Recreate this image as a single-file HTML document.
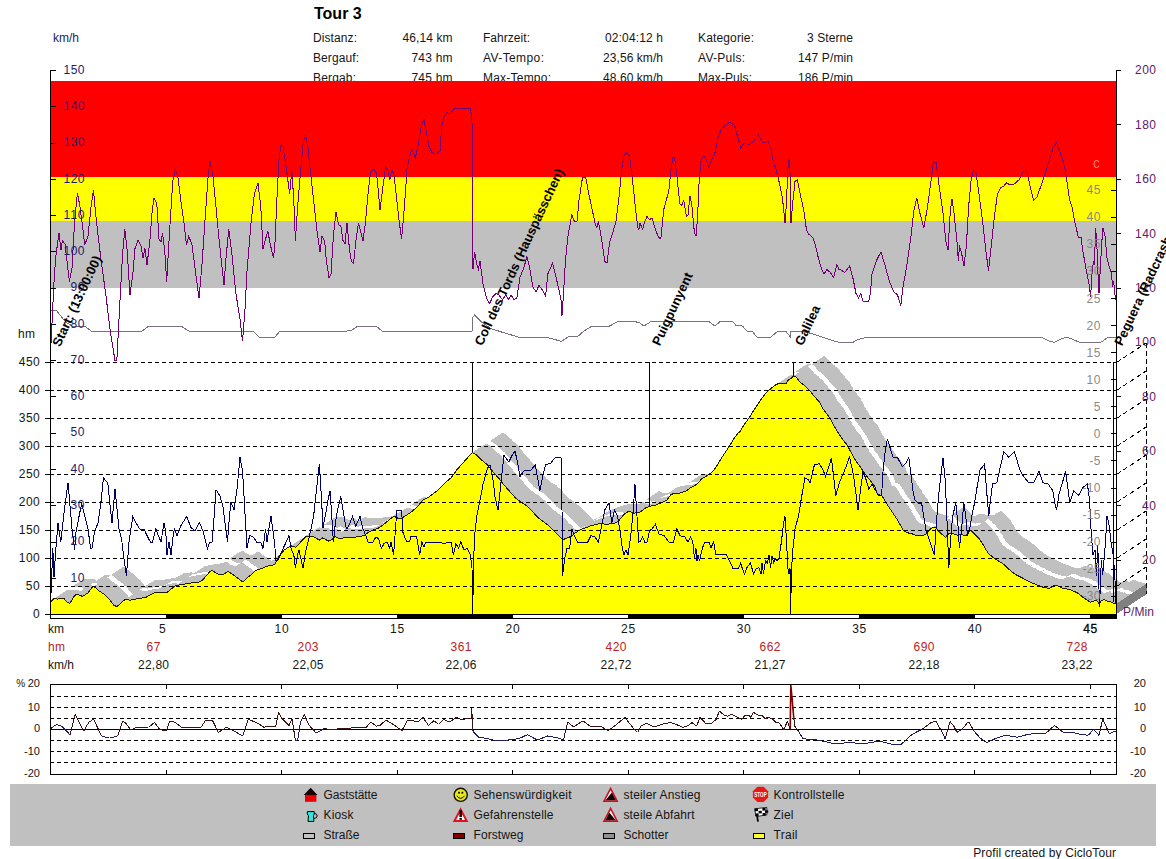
<!DOCTYPE html>
<html><head><meta charset="utf-8"><title>Tour 3</title>
<style>html,body{margin:0;padding:0;background:#fff;}body{width:1166px;height:859px;overflow:hidden;font-family:"Liberation Sans", sans-serif;}svg{display:block;}text{font-family:"Liberation Sans", sans-serif;}</style>
</head><body>
<svg width="1166" height="859" viewBox="0 0 1166 859">
<rect x="0" y="0" width="1166" height="859" fill="#ffffff"/>
<text x="314" y="19" font-size="16" font-weight="bold" fill="#000">Tour 3</text>
<text x="313" y="42" font-size="12" fill="#151515" textLength="44" lengthAdjust="spacing">Distanz:</text>
<text x="452.5" y="42" font-size="12" fill="#151515" text-anchor="end" textLength="50" lengthAdjust="spacing">46,14 km</text>
<text x="483" y="42" font-size="12" fill="#151515" textLength="47" lengthAdjust="spacing">Fahrzeit:</text>
<text x="663" y="42" font-size="12" fill="#151515" text-anchor="end" textLength="58" lengthAdjust="spacing">02:04:12 h</text>
<text x="698" y="42" font-size="12" fill="#151515" textLength="56" lengthAdjust="spacing">Kategorie:</text>
<text x="853" y="42" font-size="12" fill="#151515" text-anchor="end" textLength="46" lengthAdjust="spacing">3 Sterne</text>
<text x="313" y="62" font-size="12" fill="#151515" textLength="46" lengthAdjust="spacing">Bergauf:</text>
<text x="452.5" y="62" font-size="12" fill="#151515" text-anchor="end" textLength="41" lengthAdjust="spacing">743 hm</text>
<text x="483" y="62" font-size="12" fill="#151515" textLength="61" lengthAdjust="spacing">AV-Tempo:</text>
<text x="663" y="62" font-size="12" fill="#151515" text-anchor="end" textLength="60" lengthAdjust="spacing">23,56 km/h</text>
<text x="698" y="62" font-size="12" fill="#151515" textLength="47" lengthAdjust="spacing">AV-Puls:</text>
<text x="853" y="62" font-size="12" fill="#151515" text-anchor="end" textLength="55" lengthAdjust="spacing">147 P/min</text>
<text x="313" y="82" font-size="12" fill="#151515" textLength="43" lengthAdjust="spacing">Bergab:</text>
<text x="452.5" y="82" font-size="12" fill="#151515" text-anchor="end" textLength="41" lengthAdjust="spacing">745 hm</text>
<text x="483" y="82" font-size="12" fill="#151515" textLength="68" lengthAdjust="spacing">Max-Tempo:</text>
<text x="663" y="82" font-size="12" fill="#151515" text-anchor="end" textLength="60" lengthAdjust="spacing">48,60 km/h</text>
<text x="698" y="82" font-size="12" fill="#151515" textLength="54" lengthAdjust="spacing">Max-Puls:</text>
<text x="853" y="82" font-size="12" fill="#151515" text-anchor="end" textLength="55" lengthAdjust="spacing">186 P/min</text>
<g shape-rendering="crispEdges">
<rect x="51" y="81" width="1065" height="96" fill="#ff0000"/>
<rect x="51" y="177" width="1065" height="44" fill="#ffff00"/>
<rect x="51" y="221" width="1065" height="67" fill="#c0c0c0"/>
</g>
<g shape-rendering="crispEdges" stroke="none">
<polygon fill="#c0c0c0" points="50.8,602.4 53.0,600.0 83.0,580.2 80.8,582.6"/>
<polygon fill="#ffffff" points="64.5,593.4 66.7,591.0 70.5,588.4 68.3,590.8"/>
<polygon fill="#c0c0c0" points="52.4,600.0 54.9,598.5 84.9,578.7 82.4,580.2"/>
<polygon fill="#ffffff" points="66.0,591.0 68.5,589.5 72.4,586.9 69.9,588.4"/>
<polygon fill="#c0c0c0" points="54.3,598.5 57.7,599.1 87.7,579.3 84.3,578.7"/>
<polygon fill="#ffffff" points="68.0,589.5 71.4,590.1 75.2,587.5 71.8,586.9"/>
<polygon fill="#c0c0c0" points="57.1,599.1 61.4,598.5 91.4,578.7 87.1,579.3"/>
<polygon fill="#ffffff" points="70.8,590.1 75.0,589.5 78.9,586.9 74.7,587.5"/>
<polygon fill="#c0c0c0" points="60.8,598.5 64.7,598.5 94.7,578.7 90.8,578.7"/>
<polygon fill="#ffffff" points="74.5,589.5 78.3,589.5 82.2,586.9 78.3,586.9"/>
<polygon fill="#c0c0c0" points="64.1,598.5 66.5,601.0 96.5,581.2 94.1,578.7"/>
<polygon fill="#ffffff" points="77.8,589.5 80.2,592.0 84.0,589.4 81.6,586.9"/>
<polygon fill="#c0c0c0" points="65.9,601.0 68.4,602.8 98.4,583.0 95.9,581.2"/>
<polygon fill="#ffffff" points="79.6,592.0 82.0,593.8 85.9,591.2 83.5,589.4"/>
<polygon fill="#c0c0c0" points="67.8,602.8 70.3,603.3 100.3,583.5 97.8,583.0"/>
<polygon fill="#ffffff" points="81.5,593.8 84.0,594.3 87.8,591.7 85.3,591.2"/>
<polygon fill="#c0c0c0" points="69.7,603.3 72.1,601.0 102.1,581.2 99.7,583.5"/>
<polygon fill="#ffffff" points="83.4,594.3 85.8,592.0 89.6,589.4 87.2,591.7"/>
<polygon fill="#c0c0c0" points="71.5,601.0 74.5,596.8 104.5,577.0 101.5,581.2"/>
<polygon fill="#ffffff" points="85.2,592.0 88.2,587.8 92.0,585.2 89.0,589.4"/>
<polygon fill="#c0c0c0" points="73.9,596.8 76.3,594.5 106.3,574.7 103.9,577.0"/>
<polygon fill="#ffffff" points="87.6,587.8 90.0,585.5 93.8,582.9 91.5,585.2"/>
<polygon fill="#c0c0c0" points="75.7,594.5 78.6,594.2 108.6,574.4 105.7,574.7"/>
<polygon fill="#ffffff" points="89.4,585.5 92.2,585.2 96.1,582.6 93.2,582.9"/>
<polygon fill="#c0c0c0" points="78.0,594.2 80.5,595.4 110.5,575.6 108.0,574.4"/>
<polygon fill="#ffffff" points="91.7,585.2 94.2,586.4 98.0,583.8 95.5,582.6"/>
<polygon fill="#c0c0c0" points="79.9,595.4 82.8,596.3 112.8,576.5 109.9,575.6"/>
<polygon fill="#ffffff" points="93.6,586.4 96.5,587.3 100.3,584.7 97.5,583.8"/>
<polygon fill="#c0c0c0" points="82.2,596.3 85.6,594.9 115.6,575.1 112.2,576.5"/>
<polygon fill="#ffffff" points="95.9,587.3 99.2,585.9 103.1,583.3 99.8,584.7"/>
<polygon fill="#c0c0c0" points="85.0,594.9 88.4,593.0 118.4,573.2 115.0,575.1"/>
<polygon fill="#ffffff" points="98.7,585.9 102.0,584.0 105.9,581.4 102.5,583.3"/>
<polygon fill="#c0c0c0" points="87.8,593.0 90.3,590.7 120.3,570.9 117.8,573.2"/>
<polygon fill="#ffffff" points="101.5,584.0 104.0,581.7 107.8,579.1 105.3,581.4"/>
<polygon fill="#c0c0c0" points="89.7,590.7 92.2,588.0 122.2,568.2 119.7,570.9"/>
<polygon fill="#ffffff" points="103.4,581.7 105.8,579.0 109.7,576.4 107.2,579.1"/>
<polygon fill="#c0c0c0" points="91.6,588.0 94.0,586.6 124.0,566.8 121.6,568.2"/>
<polygon fill="#ffffff" points="105.2,579.0 107.7,577.6 111.5,575.0 109.1,576.4"/>
<polygon fill="#c0c0c0" points="93.4,586.6 95.9,587.5 125.9,567.7 123.4,566.8"/>
<polygon fill="#ffffff" points="107.1,577.6 109.5,578.5 113.4,575.9 111.0,575.0"/>
<polygon fill="#c0c0c0" points="95.3,587.5 98.7,590.3 128.7,570.5 125.3,567.7"/>
<polygon fill="#ffffff" points="109.0,578.5 112.3,581.3 116.2,578.7 112.8,575.9"/>
<polygon fill="#c0c0c0" points="98.1,590.3 101.5,592.1 131.5,572.3 128.1,570.5"/>
<polygon fill="#ffffff" points="111.8,581.3 115.2,583.1 119.0,580.5 115.6,578.7"/>
<polygon fill="#c0c0c0" points="100.9,592.1 104.3,594.0 134.3,574.2 130.9,572.3"/>
<polygon fill="#ffffff" points="114.6,583.1 118.0,585.0 121.8,582.4 118.5,580.5"/>
<polygon fill="#c0c0c0" points="103.7,594.0 107.1,596.8 137.1,577.0 133.7,574.2"/>
<polygon fill="#ffffff" points="117.4,585.0 120.8,587.8 124.6,585.2 121.2,582.4"/>
<polygon fill="#c0c0c0" points="106.5,596.8 110.8,600.5 140.8,580.7 136.5,577.0"/>
<polygon fill="#ffffff" points="120.2,587.8 124.5,591.5 128.3,588.9 124.0,585.2"/>
<polygon fill="#c0c0c0" points="110.2,600.5 114.5,605.2 144.5,585.4 140.2,580.7"/>
<polygon fill="#ffffff" points="123.9,591.5 128.2,596.2 132.1,593.6 127.8,588.9"/>
<polygon fill="#c0c0c0" points="113.9,605.2 117.3,606.6 147.3,586.8 143.9,585.4"/>
<polygon fill="#ffffff" points="127.6,596.2 130.9,597.6 134.8,595.0 131.4,593.6"/>
<polygon fill="#c0c0c0" points="116.7,606.6 120.1,604.7 150.1,584.9 146.7,586.8"/>
<polygon fill="#ffffff" points="130.3,597.6 133.8,595.7 137.6,593.1 134.2,595.0"/>
<polygon fill="#c0c0c0" points="119.5,604.7 122.9,601.5 152.9,581.7 149.5,584.9"/>
<polygon fill="#ffffff" points="133.2,595.7 136.5,592.5 140.4,589.9 137.1,593.1"/>
<polygon fill="#c0c0c0" points="122.3,601.5 125.7,599.6 155.7,579.8 152.3,581.7"/>
<polygon fill="#ffffff" points="135.9,592.5 139.3,590.6 143.2,588.0 139.8,589.9"/>
<polygon fill="#c0c0c0" points="125.1,599.6 127.5,599.1 157.5,579.3 155.1,579.8"/>
<polygon fill="#ffffff" points="138.8,590.6 141.2,590.1 145.1,587.5 142.6,588.0"/>
<polygon fill="#c0c0c0" points="126.9,599.1 130.3,600.3 160.3,580.5 156.9,579.3"/>
<polygon fill="#ffffff" points="140.6,590.1 143.9,591.3 147.8,588.7 144.4,587.5"/>
<polygon fill="#c0c0c0" points="129.7,600.3 134.1,599.6 164.1,579.8 159.7,580.5"/>
<polygon fill="#ffffff" points="143.3,591.3 147.8,590.6 151.6,588.0 147.2,588.7"/>
<polygon fill="#c0c0c0" points="133.5,599.6 137.8,598.7 167.8,578.9 163.5,579.8"/>
<polygon fill="#ffffff" points="147.2,590.6 151.4,589.7 155.3,587.1 151.1,588.0"/>
<polygon fill="#c0c0c0" points="137.2,598.7 141.5,598.2 171.5,578.4 167.2,578.9"/>
<polygon fill="#ffffff" points="150.8,589.7 155.2,589.2 159.1,586.6 154.8,587.1"/>
<polygon fill="#c0c0c0" points="140.9,598.2 146.2,597.5 176.2,577.7 170.9,578.4"/>
<polygon fill="#ffffff" points="154.6,589.2 159.8,588.5 163.8,585.9 158.4,586.6"/>
<polygon fill="#c0c0c0" points="145.6,597.5 154.6,592.9 184.6,573.1 175.6,577.7"/>
<polygon fill="#ffffff" points="159.2,588.5 168.2,583.9 172.1,581.3 163.1,585.9"/>
<polygon fill="#c0c0c0" points="154.0,592.9 161.6,592.2 191.6,572.4 184.0,573.1"/>
<polygon fill="#ffffff" points="167.7,583.9 175.2,583.2 179.1,580.6 171.6,581.3"/>
<polygon fill="#c0c0c0" points="161.0,592.2 167.2,592.9 197.2,573.1 191.0,572.4"/>
<polygon fill="#ffffff" points="174.7,583.2 180.8,583.9 184.8,581.3 178.6,580.6"/>
<polygon fill="#c0c0c0" points="166.6,592.9 171.3,589.4 201.3,569.6 196.6,573.1"/>
<polygon fill="#ffffff" points="180.2,583.9 184.9,580.4 188.8,577.8 184.1,581.3"/>
<polygon fill="#c0c0c0" points="170.7,589.4 175.5,585.9 205.5,566.1 200.7,569.6"/>
<polygon fill="#ffffff" points="184.3,580.4 189.2,576.9 193.1,574.3 188.2,577.8"/>
<polygon fill="#c0c0c0" points="174.9,585.9 182.5,584.5 212.5,564.7 204.9,566.1"/>
<polygon fill="#ffffff" points="188.6,576.9 196.2,575.5 200.1,572.9 192.4,574.3"/>
<polygon fill="#c0c0c0" points="181.9,584.5 190.9,583.1 220.9,563.3 211.9,564.7"/>
<polygon fill="#ffffff" points="195.6,575.5 204.6,574.1 208.4,571.5 199.4,572.9"/>
<polygon fill="#c0c0c0" points="190.3,583.1 199.3,582.4 229.3,562.6 220.3,563.3"/>
<polygon fill="#ffffff" points="204.0,574.1 212.9,573.4 216.8,570.8 207.9,571.5"/>
<polygon fill="#c0c0c0" points="198.7,582.4 203.5,579.7 233.5,559.9 228.7,562.6"/>
<polygon fill="#ffffff" points="212.3,573.4 217.2,570.7 221.1,568.1 216.2,570.8"/>
<polygon fill="#c0c0c0" points="202.9,579.7 207.7,574.8 237.7,555.0 232.9,559.9"/>
<polygon fill="#ffffff" points="216.6,570.7 221.3,565.8 225.2,563.2 220.4,568.1"/>
<polygon fill="#c0c0c0" points="207.1,574.8 210.5,571.5 240.5,551.7 237.1,555.0"/>
<polygon fill="#ffffff" points="220.8,565.8 224.2,562.5 228.1,559.9 224.6,563.2"/>
<polygon fill="#c0c0c0" points="209.9,571.5 213.3,570.6 243.3,550.8 239.9,551.7"/>
<polygon fill="#ffffff" points="223.6,562.5 226.9,561.6 230.8,559.0 227.4,559.9"/>
<polygon fill="#c0c0c0" points="212.7,570.6 216.8,573.4 246.8,553.6 242.7,550.8"/>
<polygon fill="#ffffff" points="226.3,561.6 230.4,564.4 234.3,561.8 230.2,559.0"/>
<polygon fill="#c0c0c0" points="216.2,573.4 220.3,574.8 250.3,555.0 246.2,553.6"/>
<polygon fill="#ffffff" points="229.8,564.4 233.9,565.8 237.8,563.2 233.8,561.8"/>
<polygon fill="#c0c0c0" points="219.7,574.8 223.7,574.8 253.7,555.0 249.7,555.0"/>
<polygon fill="#ffffff" points="233.3,565.8 237.3,565.8 241.2,563.2 237.2,563.2"/>
<polygon fill="#c0c0c0" points="223.1,574.8 228.6,571.3 258.6,551.5 253.1,555.0"/>
<polygon fill="#ffffff" points="236.8,565.8 242.2,562.3 246.1,559.7 240.6,563.2"/>
<polygon fill="#c0c0c0" points="228.0,571.3 232.8,574.1 262.8,554.3 258.0,551.5"/>
<polygon fill="#ffffff" points="241.7,562.3 246.4,565.1 250.3,562.5 245.6,559.7"/>
<polygon fill="#c0c0c0" points="232.2,574.1 238.4,578.3 268.4,558.5 262.2,554.3"/>
<polygon fill="#ffffff" points="245.8,565.1 252.1,569.3 255.9,566.7 249.8,562.5"/>
<polygon fill="#c0c0c0" points="237.8,578.3 243.6,582.2 273.6,562.4 267.8,558.5"/>
<polygon fill="#ffffff" points="251.5,569.3 257.2,573.2 261.1,570.6 255.4,566.7"/>
<polygon fill="#c0c0c0" points="243.0,582.2 248.2,577.6 278.2,557.8 273.0,562.4"/>
<polygon fill="#ffffff" points="256.6,573.2 261.8,568.6 265.8,566.0 260.6,570.6"/>
<polygon fill="#c0c0c0" points="247.6,577.6 252.4,574.1 282.4,554.3 277.6,557.8"/>
<polygon fill="#ffffff" points="261.2,568.6 266.1,565.1 269.9,562.5 265.1,566.0"/>
<polygon fill="#c0c0c0" points="251.8,574.1 256.6,570.2 286.6,550.4 281.8,554.3"/>
<polygon fill="#ffffff" points="265.4,565.1 270.2,561.2 274.2,558.6 269.4,562.5"/>
<polygon fill="#c0c0c0" points="256.0,570.2 262.2,568.5 292.2,548.7 286.0,550.4"/>
<polygon fill="#ffffff" points="269.6,561.2 275.9,559.5 279.8,556.9 273.6,558.6"/>
<polygon fill="#c0c0c0" points="261.6,568.5 269.2,565.7 299.2,545.9 291.6,548.7"/>
<polygon fill="#ffffff" points="275.2,559.5 282.9,556.7 286.8,554.1 279.2,556.9"/>
<polygon fill="#c0c0c0" points="268.6,565.7 273.4,565.0 303.4,545.2 298.6,545.9"/>
<polygon fill="#ffffff" points="282.2,556.7 287.1,556.0 291.0,553.4 286.2,554.1"/>
<polygon fill="#c0c0c0" points="272.8,565.0 276.1,563.6 306.1,543.8 302.8,545.2"/>
<polygon fill="#ffffff" points="286.4,556.0 289.8,554.6 293.7,552.0 290.4,553.4"/>
<polygon fill="#c0c0c0" points="275.5,563.6 278.2,558.7 308.2,538.9 305.5,543.8"/>
<polygon fill="#ffffff" points="289.1,554.6 291.9,549.7 295.8,547.1 293.1,552.0"/>
<polygon fill="#c0c0c0" points="277.6,558.7 281.0,554.5 311.0,534.7 307.6,538.9"/>
<polygon fill="#ffffff" points="291.2,549.7 294.6,545.5 298.6,542.9 295.2,547.1"/>
<polygon fill="#c0c0c0" points="280.4,554.5 284.5,550.3 314.5,530.5 310.4,534.7"/>
<polygon fill="#ffffff" points="294.0,545.5 298.1,541.3 302.1,538.7 297.9,542.9"/>
<polygon fill="#c0c0c0" points="283.9,550.3 288.7,547.5 318.7,527.7 313.9,530.5"/>
<polygon fill="#ffffff" points="297.5,541.3 302.4,538.5 306.3,535.9 301.4,538.7"/>
<polygon fill="#c0c0c0" points="288.1,547.5 292.1,546.0 322.1,526.2 318.1,527.7"/>
<polygon fill="#ffffff" points="301.8,538.5 305.8,537.0 309.7,534.4 305.7,535.9"/>
<polygon fill="#c0c0c0" points="291.5,546.0 294.1,546.4 324.1,526.6 321.5,526.2"/>
<polygon fill="#ffffff" points="305.1,537.0 307.8,537.4 311.7,534.8 309.1,534.4"/>
<polygon fill="#c0c0c0" points="293.5,546.4 296.2,547.4 326.2,527.6 323.5,526.6"/>
<polygon fill="#ffffff" points="307.1,537.4 309.9,538.4 313.8,535.8 311.1,534.8"/>
<polygon fill="#c0c0c0" points="295.6,547.4 301.1,542.2 331.1,522.4 325.6,527.6"/>
<polygon fill="#ffffff" points="309.2,538.4 314.8,533.2 318.7,530.6 313.2,535.8"/>
<polygon fill="#c0c0c0" points="300.5,542.2 306.0,536.9 336.0,517.1 330.5,522.4"/>
<polygon fill="#ffffff" points="314.1,533.2 319.6,527.9 323.6,525.3 318.1,530.6"/>
<polygon fill="#c0c0c0" points="305.4,536.9 310.2,536.4 340.2,516.6 335.4,517.1"/>
<polygon fill="#ffffff" points="319.0,527.9 323.9,527.4 327.8,524.8 322.9,525.3"/>
<polygon fill="#c0c0c0" points="309.6,536.4 314.4,536.9 344.4,517.1 339.6,516.6"/>
<polygon fill="#ffffff" points="323.2,527.4 328.1,527.9 332.0,525.3 327.2,524.8"/>
<polygon fill="#c0c0c0" points="313.8,536.9 319.9,540.1 349.9,520.3 343.8,517.1"/>
<polygon fill="#ffffff" points="327.4,527.9 333.6,531.1 337.5,528.5 331.4,525.3"/>
<polygon fill="#c0c0c0" points="319.3,540.1 323.4,537.8 353.4,518.0 349.3,520.3"/>
<polygon fill="#ffffff" points="332.9,531.1 337.1,528.8 341.0,526.2 336.9,528.5"/>
<polygon fill="#c0c0c0" points="322.8,537.8 329.0,541.1 359.0,521.3 352.8,518.0"/>
<polygon fill="#ffffff" points="336.4,528.8 342.6,532.1 346.6,529.5 340.4,526.2"/>
<polygon fill="#c0c0c0" points="328.4,541.1 332.5,539.4 362.5,519.6 358.4,521.3"/>
<polygon fill="#ffffff" points="342.0,532.1 346.1,530.4 350.1,527.8 345.9,529.5"/>
<polygon fill="#c0c0c0" points="331.9,539.4 335.3,536.6 365.3,516.8 361.9,519.6"/>
<polygon fill="#ffffff" points="345.5,530.4 348.9,527.6 352.9,525.0 349.4,527.8"/>
<polygon fill="#c0c0c0" points="334.7,536.6 339.5,538.3 369.5,518.5 364.7,516.8"/>
<polygon fill="#ffffff" points="348.3,527.6 353.1,529.3 357.1,526.7 352.2,525.0"/>
<polygon fill="#c0c0c0" points="338.9,538.3 346.5,537.8 376.5,518.0 368.9,518.5"/>
<polygon fill="#ffffff" points="352.5,529.3 360.1,528.8 364.1,526.2 356.4,526.7"/>
<polygon fill="#c0c0c0" points="345.9,537.8 353.5,537.3 383.5,517.5 375.9,518.0"/>
<polygon fill="#ffffff" points="359.5,528.8 367.1,528.3 371.1,525.7 363.4,526.2"/>
<polygon fill="#c0c0c0" points="352.9,537.3 360.5,536.6 390.5,516.8 382.9,517.5"/>
<polygon fill="#ffffff" points="366.5,528.3 374.1,527.6 378.1,525.0 370.4,525.7"/>
<polygon fill="#c0c0c0" points="359.9,536.6 364.6,535.5 394.6,515.7 389.9,516.8"/>
<polygon fill="#ffffff" points="373.5,527.6 378.2,526.5 382.2,523.9 377.4,525.0"/>
<polygon fill="#c0c0c0" points="364.0,535.5 368.9,532.4 398.9,512.6 394.0,515.7"/>
<polygon fill="#ffffff" points="377.6,526.5 382.6,523.4 386.5,520.8 381.6,523.9"/>
<polygon fill="#c0c0c0" points="368.3,532.4 374.4,529.9 404.4,510.1 398.3,512.6"/>
<polygon fill="#ffffff" points="381.9,523.4 388.1,520.9 392.0,518.3 385.9,520.8"/>
<polygon fill="#c0c0c0" points="373.8,529.9 380.0,527.6 410.0,507.8 403.8,510.1"/>
<polygon fill="#ffffff" points="387.4,520.9 393.6,518.6 397.6,516.0 391.4,518.3"/>
<polygon fill="#c0c0c0" points="379.4,527.6 385.6,523.4 415.6,503.6 409.4,507.8"/>
<polygon fill="#ffffff" points="393.0,518.6 399.2,514.4 403.2,511.8 396.9,516.0"/>
<polygon fill="#c0c0c0" points="385.0,523.4 391.2,518.5 421.2,498.7 415.0,503.6"/>
<polygon fill="#ffffff" points="398.6,514.4 404.9,509.5 408.8,506.9 402.6,511.8"/>
<polygon fill="#c0c0c0" points="390.6,518.5 394.7,516.4 424.7,496.6 420.6,498.7"/>
<polygon fill="#ffffff" points="404.2,509.5 408.4,507.4 412.3,504.8 408.2,506.9"/>
<polygon fill="#c0c0c0" points="394.1,516.4 398.2,518.0 428.2,498.2 424.1,496.6"/>
<polygon fill="#ffffff" points="407.8,507.4 411.9,509.0 415.8,506.4 411.7,504.8"/>
<polygon fill="#c0c0c0" points="397.6,518.0 402.4,518.0 432.4,498.2 427.6,498.2"/>
<polygon fill="#ffffff" points="411.2,509.0 416.1,509.0 420.0,506.4 415.2,506.4"/>
<polygon fill="#c0c0c0" points="401.8,518.0 406.6,515.4 436.6,495.6 431.8,498.2"/>
<polygon fill="#ffffff" points="415.4,509.0 420.2,506.4 424.2,503.8 419.4,506.4"/>
<polygon fill="#c0c0c0" points="406.0,515.4 410.8,512.9 440.8,493.1 436.0,495.6"/>
<polygon fill="#ffffff" points="419.6,506.4 424.4,503.9 428.4,501.3 423.6,503.8"/>
<polygon fill="#c0c0c0" points="410.2,512.9 415.0,509.4 445.0,489.6 440.2,493.1"/>
<polygon fill="#ffffff" points="423.8,503.9 428.6,500.4 432.6,497.8 427.8,501.3"/>
<polygon fill="#c0c0c0" points="414.4,509.4 419.2,505.2 449.2,485.4 444.4,489.6"/>
<polygon fill="#ffffff" points="428.0,500.4 432.9,496.2 436.8,493.6 431.9,497.8"/>
<polygon fill="#c0c0c0" points="418.6,505.2 423.4,500.3 453.4,480.5 448.6,485.4"/>
<polygon fill="#ffffff" points="432.2,496.2 437.1,491.3 441.0,488.7 436.2,493.6"/>
<polygon fill="#c0c0c0" points="422.8,500.3 427.5,498.2 457.5,478.4 452.8,480.5"/>
<polygon fill="#ffffff" points="436.4,491.3 441.1,489.2 445.1,486.6 440.4,488.7"/>
<polygon fill="#c0c0c0" points="426.9,498.2 431.7,495.4 461.7,475.6 456.9,478.4"/>
<polygon fill="#ffffff" points="440.5,489.2 445.4,486.4 449.3,483.8 444.4,486.6"/>
<polygon fill="#c0c0c0" points="431.1,495.4 437.3,491.2 467.3,471.4 461.1,475.6"/>
<polygon fill="#ffffff" points="444.8,486.4 450.9,482.2 454.9,479.6 448.7,483.8"/>
<polygon fill="#c0c0c0" points="436.7,491.2 440.6,487.8 470.6,468.0 466.7,471.4"/>
<polygon fill="#ffffff" points="450.3,482.2 454.2,478.8 458.2,476.2 454.2,479.6"/>
<polygon fill="#c0c0c0" points="440.0,487.8 446.2,482.5 476.2,462.7 470.0,468.0"/>
<polygon fill="#ffffff" points="453.6,478.8 459.9,473.5 463.8,470.9 457.6,476.2"/>
<polygon fill="#c0c0c0" points="445.6,482.5 451.8,477.6 481.8,457.8 475.6,462.7"/>
<polygon fill="#ffffff" points="459.2,473.5 465.4,468.6 469.4,466.0 463.2,470.9"/>
<polygon fill="#c0c0c0" points="451.2,477.6 457.4,469.9 487.4,450.1 481.2,457.8"/>
<polygon fill="#ffffff" points="464.8,468.6 471.1,460.9 475.0,458.3 468.8,466.0"/>
<polygon fill="#c0c0c0" points="456.8,469.9 463.0,463.6 493.0,443.8 486.8,450.1"/>
<polygon fill="#ffffff" points="470.4,460.9 476.6,454.6 480.6,452.0 474.4,458.3"/>
<polygon fill="#c0c0c0" points="462.4,463.6 468.5,457.4 498.5,437.6 492.4,443.8"/>
<polygon fill="#ffffff" points="476.0,454.6 482.1,448.4 486.1,445.8 479.9,452.0"/>
<polygon fill="#c0c0c0" points="467.9,457.4 473.0,452.5 503.0,432.7 497.9,437.6"/>
<polygon fill="#ffffff" points="481.5,448.4 486.6,443.5 490.6,440.9 485.4,445.8"/>
<polygon fill="#c0c0c0" points="472.4,452.5 476.9,454.6 506.9,434.8 502.4,432.7"/>
<polygon fill="#ffffff" points="486.0,443.5 490.6,445.6 494.5,443.0 489.9,440.9"/>
<polygon fill="#c0c0c0" points="476.3,454.6 482.5,460.2 512.5,440.4 506.3,434.8"/>
<polygon fill="#ffffff" points="489.9,445.6 496.1,451.2 500.1,448.6 493.9,443.0"/>
<polygon fill="#c0c0c0" points="481.9,460.2 488.1,465.0 518.1,445.2 511.9,440.4"/>
<polygon fill="#ffffff" points="495.5,451.2 501.8,456.0 505.7,453.4 499.4,448.6"/>
<polygon fill="#c0c0c0" points="487.5,465.0 493.7,472.0 523.7,452.2 517.5,445.2"/>
<polygon fill="#ffffff" points="501.1,456.0 507.4,463.0 511.3,460.4 505.1,453.4"/>
<polygon fill="#c0c0c0" points="493.1,472.0 499.3,478.3 529.3,458.5 523.1,452.2"/>
<polygon fill="#ffffff" points="506.8,463.0 513.0,469.3 516.9,466.7 510.7,460.4"/>
<polygon fill="#c0c0c0" points="498.7,478.3 504.9,485.3 534.9,465.5 528.7,458.5"/>
<polygon fill="#ffffff" points="512.4,469.3 518.6,476.3 522.5,473.7 516.2,466.7"/>
<polygon fill="#c0c0c0" points="504.3,485.3 510.5,491.6 540.5,471.8 534.3,465.5"/>
<polygon fill="#ffffff" points="518.0,476.3 524.1,482.6 528.0,480.0 521.9,473.7"/>
<polygon fill="#c0c0c0" points="509.9,491.6 516.1,497.9 546.1,478.1 539.9,471.8"/>
<polygon fill="#ffffff" points="523.5,482.6 529.8,488.9 533.6,486.3 527.4,480.0"/>
<polygon fill="#c0c0c0" points="515.5,497.9 521.6,502.1 551.6,482.3 545.5,478.1"/>
<polygon fill="#ffffff" points="529.1,488.9 535.2,493.1 539.1,490.5 533.0,486.3"/>
<polygon fill="#c0c0c0" points="521.0,502.1 527.2,505.6 557.2,485.8 551.0,482.3"/>
<polygon fill="#ffffff" points="534.6,493.1 540.9,496.6 544.8,494.0 538.5,490.5"/>
<polygon fill="#c0c0c0" points="526.6,505.6 532.8,511.2 562.8,491.4 556.6,485.8"/>
<polygon fill="#ffffff" points="540.2,496.6 546.5,502.2 550.4,499.6 544.1,494.0"/>
<polygon fill="#c0c0c0" points="532.2,511.2 538.4,517.4 568.4,497.6 562.2,491.4"/>
<polygon fill="#ffffff" points="545.9,502.2 552.0,508.4 555.9,505.8 549.8,499.6"/>
<polygon fill="#c0c0c0" points="537.8,517.4 544.0,521.6 574.0,501.8 567.8,497.6"/>
<polygon fill="#ffffff" points="551.4,508.4 557.6,512.6 561.5,510.0 555.3,505.8"/>
<polygon fill="#c0c0c0" points="543.4,521.6 549.6,525.8 579.6,506.0 573.4,501.8"/>
<polygon fill="#ffffff" points="557.0,512.6 563.2,516.8 567.1,514.2 560.9,510.0"/>
<polygon fill="#c0c0c0" points="549.0,525.8 555.2,531.4 585.2,511.6 579.0,506.0"/>
<polygon fill="#ffffff" points="562.6,516.8 568.9,522.4 572.8,519.8 566.5,514.2"/>
<polygon fill="#c0c0c0" points="554.6,531.4 559.4,535.6 589.4,515.8 584.6,511.6"/>
<polygon fill="#ffffff" points="568.2,522.4 573.0,526.6 576.9,524.0 572.1,519.8"/>
<polygon fill="#c0c0c0" points="558.8,535.6 563.3,539.8 593.3,520.0 588.8,515.8"/>
<polygon fill="#ffffff" points="572.4,526.6 577.0,530.8 580.9,528.2 576.3,524.0"/>
<polygon fill="#c0c0c0" points="562.7,539.8 566.4,538.4 596.4,518.6 592.7,520.0"/>
<polygon fill="#ffffff" points="576.4,530.8 580.0,529.4 583.9,526.8 580.2,528.2"/>
<polygon fill="#c0c0c0" points="565.8,538.4 572.0,536.3 602.0,516.5 595.8,518.6"/>
<polygon fill="#ffffff" points="579.4,529.4 585.6,527.3 589.5,524.7 583.3,526.8"/>
<polygon fill="#c0c0c0" points="571.4,536.3 576.1,532.8 606.1,513.0 601.4,516.5"/>
<polygon fill="#ffffff" points="585.0,527.3 589.8,523.8 593.6,521.2 588.9,524.7"/>
<polygon fill="#c0c0c0" points="575.5,532.8 580.3,530.0 610.3,510.2 605.5,513.0"/>
<polygon fill="#ffffff" points="589.1,523.8 594.0,521.0 597.9,518.4 593.0,521.2"/>
<polygon fill="#c0c0c0" points="579.7,530.0 585.9,527.9 615.9,508.1 609.7,510.2"/>
<polygon fill="#ffffff" points="593.4,521.0 599.5,518.9 603.4,516.3 597.2,518.4"/>
<polygon fill="#c0c0c0" points="585.3,527.9 591.5,525.8 621.5,506.0 615.3,508.1"/>
<polygon fill="#ffffff" points="598.9,518.9 605.1,516.8 609.0,514.2 602.8,516.3"/>
<polygon fill="#c0c0c0" points="590.9,525.8 596.2,524.6 626.2,504.8 620.9,506.0"/>
<polygon fill="#ffffff" points="604.5,516.8 609.9,515.6 613.8,513.0 608.4,514.2"/>
<polygon fill="#c0c0c0" points="595.6,524.6 600.4,523.5 630.4,503.7 625.6,504.8"/>
<polygon fill="#ffffff" points="609.2,515.6 614.0,514.5 617.9,511.9 613.1,513.0"/>
<polygon fill="#c0c0c0" points="599.8,523.5 607.4,524.3 637.4,504.5 629.8,503.7"/>
<polygon fill="#ffffff" points="613.4,514.5 621.0,515.3 624.9,512.7 617.3,511.9"/>
<polygon fill="#c0c0c0" points="606.8,524.3 614.4,523.5 644.4,503.7 636.8,504.5"/>
<polygon fill="#ffffff" points="620.4,515.3 628.0,514.5 631.9,511.9 624.3,512.7"/>
<polygon fill="#c0c0c0" points="613.8,523.5 619.2,521.1 649.2,501.3 643.8,503.7"/>
<polygon fill="#ffffff" points="627.4,514.5 632.9,512.1 636.8,509.5 631.3,511.9"/>
<polygon fill="#c0c0c0" points="618.6,521.1 624.1,514.8 654.1,495.0 648.6,501.3"/>
<polygon fill="#ffffff" points="632.2,512.1 637.8,505.8 641.6,503.2 636.1,509.5"/>
<polygon fill="#c0c0c0" points="623.5,514.8 629.7,510.9 659.7,491.1 653.5,495.0"/>
<polygon fill="#ffffff" points="637.1,505.8 643.4,501.9 647.2,499.3 641.0,503.2"/>
<polygon fill="#c0c0c0" points="629.1,510.9 633.9,513.4 663.9,493.6 659.1,491.1"/>
<polygon fill="#ffffff" points="642.8,501.9 647.5,504.4 651.4,501.8 646.6,499.3"/>
<polygon fill="#c0c0c0" points="633.3,513.4 640.9,512.0 670.9,492.2 663.3,493.6"/>
<polygon fill="#ffffff" points="646.9,504.4 654.5,503.0 658.4,500.4 650.8,501.8"/>
<polygon fill="#c0c0c0" points="640.3,512.0 646.5,507.8 676.5,488.0 670.3,492.2"/>
<polygon fill="#ffffff" points="653.9,503.0 660.1,498.8 664.0,496.2 657.8,500.4"/>
<polygon fill="#c0c0c0" points="645.9,507.8 650.7,506.1 680.7,486.3 675.9,488.0"/>
<polygon fill="#ffffff" points="659.5,498.8 664.4,497.1 668.2,494.5 663.4,496.2"/>
<polygon fill="#c0c0c0" points="650.1,506.1 656.3,505.0 686.3,485.2 680.1,486.3"/>
<polygon fill="#ffffff" points="663.8,497.1 670.0,496.0 673.9,493.4 667.6,494.5"/>
<polygon fill="#c0c0c0" points="655.7,505.0 661.9,502.9 691.9,483.1 685.7,485.2"/>
<polygon fill="#ffffff" points="669.4,496.0 675.5,493.9 679.4,491.3 673.2,493.4"/>
<polygon fill="#c0c0c0" points="661.3,502.9 667.5,500.1 697.5,480.3 691.3,483.1"/>
<polygon fill="#ffffff" points="674.9,493.9 681.1,491.1 685.0,488.5 678.8,491.3"/>
<polygon fill="#c0c0c0" points="666.9,500.1 671.6,494.5 701.6,474.7 696.9,480.3"/>
<polygon fill="#ffffff" points="680.5,491.1 685.2,485.5 689.1,482.9 684.4,488.5"/>
<polygon fill="#c0c0c0" points="671.0,494.5 674.4,493.6 704.4,473.8 701.0,474.7"/>
<polygon fill="#ffffff" points="684.6,485.5 688.0,484.6 691.9,482.0 688.5,482.9"/>
<polygon fill="#c0c0c0" points="673.8,493.6 678.6,493.8 708.6,474.0 703.8,473.8"/>
<polygon fill="#ffffff" points="687.4,484.6 692.2,484.8 696.1,482.2 691.3,482.0"/>
<polygon fill="#c0c0c0" points="678.0,493.8 682.8,492.4 712.8,472.6 708.0,474.0"/>
<polygon fill="#ffffff" points="691.6,484.8 696.5,483.4 700.4,480.8 695.5,482.2"/>
<polygon fill="#c0c0c0" points="682.2,492.4 687.0,491.0 717.0,471.2 712.2,472.6"/>
<polygon fill="#ffffff" points="695.9,483.4 700.6,482.0 704.5,479.4 699.8,480.8"/>
<polygon fill="#c0c0c0" points="686.4,491.0 691.2,487.6 721.2,467.8 716.4,471.2"/>
<polygon fill="#ffffff" points="700.0,482.0 704.9,478.6 708.8,476.0 703.9,479.4"/>
<polygon fill="#c0c0c0" points="690.6,487.6 695.4,485.7 725.4,465.9 720.6,467.8"/>
<polygon fill="#ffffff" points="704.2,478.6 709.0,476.7 712.9,474.1 708.1,476.0"/>
<polygon fill="#c0c0c0" points="694.8,485.7 699.6,482.0 729.6,462.2 724.8,465.9"/>
<polygon fill="#ffffff" points="708.4,476.7 713.2,473.0 717.1,470.4 712.3,474.1"/>
<polygon fill="#c0c0c0" points="699.0,482.0 702.4,478.5 732.4,458.7 729.0,462.2"/>
<polygon fill="#ffffff" points="712.6,473.0 716.0,469.5 719.9,466.9 716.5,470.4"/>
<polygon fill="#c0c0c0" points="701.8,478.5 706.6,476.4 736.6,456.6 731.8,458.7"/>
<polygon fill="#ffffff" points="715.4,469.5 720.2,467.4 724.1,464.8 719.3,466.9"/>
<polygon fill="#c0c0c0" points="706.0,476.4 710.8,473.6 740.8,453.8 736.0,456.6"/>
<polygon fill="#ffffff" points="719.6,467.4 724.5,464.6 728.4,462.0 723.5,464.8"/>
<polygon fill="#c0c0c0" points="710.2,473.6 715.0,469.4 745.0,449.6 740.2,453.8"/>
<polygon fill="#ffffff" points="723.9,464.6 728.6,460.4 732.5,457.8 727.8,462.0"/>
<polygon fill="#c0c0c0" points="714.4,469.4 717.8,465.2 747.8,445.4 744.4,449.6"/>
<polygon fill="#ffffff" points="728.0,460.4 731.5,456.2 735.4,453.6 731.9,457.8"/>
<polygon fill="#c0c0c0" points="717.2,465.2 722.0,458.2 752.0,438.4 747.2,445.4"/>
<polygon fill="#ffffff" points="730.9,456.2 735.6,449.2 739.5,446.6 734.8,453.6"/>
<polygon fill="#c0c0c0" points="721.4,458.2 726.2,451.9 756.2,432.1 751.4,438.4"/>
<polygon fill="#ffffff" points="735.0,449.2 739.9,442.9 743.8,440.3 738.9,446.6"/>
<polygon fill="#c0c0c0" points="725.6,451.9 730.3,445.6 760.3,425.8 755.6,432.1"/>
<polygon fill="#ffffff" points="739.2,442.9 744.0,436.6 747.9,434.0 743.1,440.3"/>
<polygon fill="#c0c0c0" points="729.7,445.6 734.5,438.6 764.5,418.8 759.7,425.8"/>
<polygon fill="#ffffff" points="743.4,436.6 748.1,429.6 752.0,427.0 747.2,434.0"/>
<polygon fill="#c0c0c0" points="733.9,438.6 738.7,433.1 768.7,413.3 763.9,418.8"/>
<polygon fill="#ffffff" points="747.5,429.6 752.4,424.1 756.2,421.5 751.4,427.0"/>
<polygon fill="#c0c0c0" points="738.1,433.1 740.6,431.5 770.6,411.7 768.1,413.3"/>
<polygon fill="#ffffff" points="751.8,424.1 754.2,422.5 758.1,419.9 755.6,421.5"/>
<polygon fill="#c0c0c0" points="740.0,431.5 745.5,423.6 775.5,403.8 770.0,411.7"/>
<polygon fill="#ffffff" points="753.6,422.5 759.1,414.6 763.0,412.0 757.5,419.9"/>
<polygon fill="#c0c0c0" points="744.9,423.6 750.4,416.9 780.4,397.1 774.9,403.8"/>
<polygon fill="#ffffff" points="758.5,414.6 764.0,407.9 767.9,405.3 762.4,412.0"/>
<polygon fill="#c0c0c0" points="749.8,416.9 755.3,408.9 785.3,389.1 779.8,397.1"/>
<polygon fill="#ffffff" points="763.4,407.9 769.0,399.9 772.9,397.3 767.3,405.3"/>
<polygon fill="#c0c0c0" points="754.7,408.9 760.2,401.6 790.2,381.8 784.7,389.1"/>
<polygon fill="#ffffff" points="768.4,399.9 773.9,392.6 777.8,390.0 772.2,397.3"/>
<polygon fill="#c0c0c0" points="759.6,401.6 765.1,394.8 795.1,375.0 789.6,381.8"/>
<polygon fill="#ffffff" points="773.2,392.6 778.8,385.8 782.6,383.2 777.1,390.0"/>
<polygon fill="#c0c0c0" points="764.5,394.8 769.9,390.0 799.9,370.2 794.5,375.0"/>
<polygon fill="#ffffff" points="778.1,385.8 783.5,381.0 787.4,378.4 782.0,383.2"/>
<polygon fill="#c0c0c0" points="769.3,390.0 774.8,385.7 804.8,365.9 799.3,370.2"/>
<polygon fill="#ffffff" points="782.9,381.0 788.5,376.7 792.4,374.1 786.8,378.4"/>
<polygon fill="#c0c0c0" points="774.2,385.7 778.5,383.8 808.5,364.0 804.2,365.9"/>
<polygon fill="#ffffff" points="787.9,376.7 792.1,374.8 796.0,372.2 791.8,374.1"/>
<polygon fill="#c0c0c0" points="777.9,383.8 782.8,383.5 812.8,363.7 807.9,364.0"/>
<polygon fill="#ffffff" points="791.5,374.8 796.5,374.5 800.4,371.9 795.4,372.2"/>
<polygon fill="#c0c0c0" points="782.2,383.5 786.4,383.8 816.4,364.0 812.2,363.7"/>
<polygon fill="#ffffff" points="795.9,374.5 800.0,374.8 803.9,372.2 799.8,371.9"/>
<polygon fill="#c0c0c0" points="785.8,383.8 788.9,380.2 818.9,360.4 815.8,364.0"/>
<polygon fill="#ffffff" points="799.4,374.8 802.5,371.2 806.4,368.6 803.3,372.2"/>
<polygon fill="#c0c0c0" points="788.3,380.2 792.0,378.3 822.0,358.5 818.3,360.4"/>
<polygon fill="#ffffff" points="801.9,371.2 805.6,369.3 809.5,366.7 805.8,368.6"/>
<polygon fill="#c0c0c0" points="791.4,378.3 794.4,375.9 824.4,356.1 821.4,358.5"/>
<polygon fill="#ffffff" points="805.0,369.3 808.0,366.9 811.9,364.3 808.9,366.7"/>
<polygon fill="#c0c0c0" points="793.8,375.9 796.8,377.1 826.8,357.3 823.8,356.1"/>
<polygon fill="#ffffff" points="807.4,366.9 810.5,368.1 814.4,365.5 811.3,364.3"/>
<polygon fill="#c0c0c0" points="796.2,377.1 800.5,382.0 830.5,362.2 826.2,357.3"/>
<polygon fill="#ffffff" points="809.9,368.1 814.1,373.0 818.0,370.4 813.8,365.5"/>
<polygon fill="#c0c0c0" points="799.9,382.0 805.4,385.7 835.4,365.9 829.9,362.2"/>
<polygon fill="#ffffff" points="813.5,373.0 819.0,376.7 822.9,374.1 817.4,370.4"/>
<polygon fill="#c0c0c0" points="804.8,385.7 810.3,390.6 840.3,370.8 834.8,365.9"/>
<polygon fill="#ffffff" points="818.4,376.7 824.0,381.6 827.9,379.0 822.3,374.1"/>
<polygon fill="#c0c0c0" points="809.7,390.6 815.2,396.7 845.2,376.9 839.7,370.8"/>
<polygon fill="#ffffff" points="823.4,381.6 828.9,387.7 832.8,385.1 827.2,379.0"/>
<polygon fill="#c0c0c0" points="814.6,396.7 820.1,402.2 850.1,382.4 844.6,376.9"/>
<polygon fill="#ffffff" points="828.2,387.7 833.8,393.2 837.6,390.6 832.1,385.1"/>
<polygon fill="#c0c0c0" points="819.5,402.2 823.7,408.9 853.7,389.1 849.5,382.4"/>
<polygon fill="#ffffff" points="833.1,393.2 837.4,399.9 841.2,397.3 837.0,390.6"/>
<polygon fill="#c0c0c0" points="823.1,408.9 827.4,413.8 857.4,394.0 853.1,389.1"/>
<polygon fill="#ffffff" points="836.8,399.9 841.0,404.8 844.9,402.2 840.6,397.3"/>
<polygon fill="#c0c0c0" points="826.8,413.8 831.1,418.7 861.1,398.9 856.8,394.0"/>
<polygon fill="#ffffff" points="840.4,404.8 844.8,409.7 848.6,407.1 844.3,402.2"/>
<polygon fill="#c0c0c0" points="830.5,418.7 834.7,426.0 864.7,406.2 860.5,398.9"/>
<polygon fill="#ffffff" points="844.1,409.7 848.4,417.0 852.2,414.4 848.0,407.1"/>
<polygon fill="#c0c0c0" points="834.1,426.0 838.4,432.1 868.4,412.3 864.1,406.2"/>
<polygon fill="#ffffff" points="847.8,417.0 852.0,423.1 855.9,420.5 851.6,414.4"/>
<polygon fill="#c0c0c0" points="837.8,432.1 843.3,439.5 873.3,419.7 867.8,412.3"/>
<polygon fill="#ffffff" points="851.4,423.1 857.0,430.5 860.9,427.9 855.3,420.5"/>
<polygon fill="#c0c0c0" points="842.7,439.5 848.2,445.6 878.2,425.8 872.7,419.7"/>
<polygon fill="#ffffff" points="856.4,430.5 861.9,436.6 865.8,434.0 860.2,427.9"/>
<polygon fill="#c0c0c0" points="847.6,445.6 850.6,450.5 880.6,430.7 877.6,425.8"/>
<polygon fill="#ffffff" points="861.2,436.6 864.2,441.5 868.1,438.9 865.1,434.0"/>
<polygon fill="#c0c0c0" points="850.0,450.5 856.2,460.5 886.2,440.7 880.0,430.7"/>
<polygon fill="#ffffff" points="863.6,441.5 869.9,451.5 873.8,448.9 867.5,438.9"/>
<polygon fill="#c0c0c0" points="855.6,460.5 861.8,468.2 891.8,448.4 885.6,440.7"/>
<polygon fill="#ffffff" points="869.2,451.5 875.5,459.2 879.4,456.6 873.1,448.9"/>
<polygon fill="#c0c0c0" points="861.2,468.2 866.0,474.5 896.0,454.7 891.2,448.4"/>
<polygon fill="#ffffff" points="874.9,459.2 879.6,465.5 883.5,462.9 878.8,456.6"/>
<polygon fill="#c0c0c0" points="865.4,474.5 871.6,481.4 901.6,461.6 895.4,454.7"/>
<polygon fill="#ffffff" points="879.0,465.5 885.2,472.4 889.1,469.8 882.9,462.9"/>
<polygon fill="#c0c0c0" points="871.0,481.4 875.8,487.0 905.8,467.2 901.0,461.6"/>
<polygon fill="#ffffff" points="884.6,472.4 889.5,478.0 893.4,475.4 888.5,469.8"/>
<polygon fill="#c0c0c0" points="875.2,487.0 877.8,494.0 907.8,474.2 905.2,467.2"/>
<polygon fill="#ffffff" points="888.9,478.0 891.5,485.0 895.4,482.4 892.8,475.4"/>
<polygon fill="#c0c0c0" points="877.2,494.0 882.7,496.1 912.7,476.3 907.2,474.2"/>
<polygon fill="#ffffff" points="890.9,485.0 896.4,487.1 900.2,484.5 894.8,482.4"/>
<polygon fill="#c0c0c0" points="882.1,496.1 886.9,503.1 916.9,483.3 912.1,476.3"/>
<polygon fill="#ffffff" points="895.8,487.1 900.5,494.1 904.4,491.5 899.6,484.5"/>
<polygon fill="#c0c0c0" points="886.3,503.1 892.5,511.5 922.5,491.7 916.3,483.3"/>
<polygon fill="#ffffff" points="899.9,494.1 906.1,502.5 910.0,499.9 903.8,491.5"/>
<polygon fill="#c0c0c0" points="891.9,511.5 898.1,519.9 928.1,500.1 921.9,491.7"/>
<polygon fill="#ffffff" points="905.5,502.5 911.8,510.9 915.6,508.3 909.4,499.9"/>
<polygon fill="#c0c0c0" points="897.5,519.9 902.3,527.6 932.3,507.8 927.5,500.1"/>
<polygon fill="#ffffff" points="911.1,510.9 916.0,518.6 919.9,516.0 915.0,508.3"/>
<polygon fill="#c0c0c0" points="901.7,527.6 904.4,531.0 934.4,511.2 931.7,507.8"/>
<polygon fill="#ffffff" points="915.4,518.6 918.0,522.0 921.9,519.4 919.2,516.0"/>
<polygon fill="#c0c0c0" points="903.8,531.0 909.3,533.1 939.3,513.3 933.8,511.2"/>
<polygon fill="#ffffff" points="917.4,522.0 923.0,524.1 926.9,521.5 921.3,519.4"/>
<polygon fill="#c0c0c0" points="908.7,533.1 913.5,534.1 943.5,514.3 938.7,513.3"/>
<polygon fill="#ffffff" points="922.4,524.1 927.1,525.1 931.0,522.5 926.2,521.5"/>
<polygon fill="#c0c0c0" points="912.9,534.1 917.7,535.9 947.7,516.1 942.9,514.3"/>
<polygon fill="#ffffff" points="926.5,525.1 931.4,526.9 935.2,524.3 930.4,522.5"/>
<polygon fill="#c0c0c0" points="917.1,535.9 923.3,535.9 953.3,516.1 947.1,516.1"/>
<polygon fill="#ffffff" points="930.8,526.9 937.0,526.9 940.9,524.3 934.6,524.3"/>
<polygon fill="#c0c0c0" points="922.7,535.9 926.8,533.8 956.8,514.0 952.7,516.1"/>
<polygon fill="#ffffff" points="936.4,526.9 940.5,524.8 944.4,522.2 940.2,524.3"/>
<polygon fill="#c0c0c0" points="926.2,533.8 930.3,529.7 960.3,509.9 956.2,514.0"/>
<polygon fill="#ffffff" points="939.9,524.8 944.0,520.7 947.9,518.1 943.8,522.2"/>
<polygon fill="#c0c0c0" points="929.7,529.7 933.0,527.6 963.0,507.8 959.7,509.9"/>
<polygon fill="#ffffff" points="943.4,520.7 946.6,518.6 950.5,516.0 947.2,518.1"/>
<polygon fill="#c0c0c0" points="932.4,527.6 936.1,527.6 966.1,507.8 962.4,507.8"/>
<polygon fill="#ffffff" points="946.0,518.6 949.8,518.6 953.6,516.0 949.9,516.0"/>
<polygon fill="#c0c0c0" points="935.5,527.6 938.6,530.4 968.6,510.6 965.5,507.8"/>
<polygon fill="#ffffff" points="949.1,518.6 952.2,521.4 956.1,518.8 953.0,516.0"/>
<polygon fill="#c0c0c0" points="938.0,530.4 942.8,534.5 972.8,514.7 968.0,510.6"/>
<polygon fill="#ffffff" points="951.6,521.4 956.5,525.5 960.4,522.9 955.5,518.8"/>
<polygon fill="#c0c0c0" points="942.2,534.5 946.3,537.3 976.3,517.5 972.2,514.7"/>
<polygon fill="#ffffff" points="955.9,525.5 960.0,528.3 963.9,525.7 959.8,522.9"/>
<polygon fill="#c0c0c0" points="945.7,537.3 949.1,533.8 979.1,514.0 975.7,517.5"/>
<polygon fill="#ffffff" points="959.4,528.3 962.8,524.8 966.6,522.2 963.2,525.7"/>
<polygon fill="#c0c0c0" points="948.5,533.8 954.0,533.8 984.0,514.0 978.5,514.0"/>
<polygon fill="#ffffff" points="962.1,524.8 967.6,524.8 971.5,522.2 966.0,522.2"/>
<polygon fill="#c0c0c0" points="953.4,533.8 958.2,535.2 988.2,515.4 983.4,514.0"/>
<polygon fill="#ffffff" points="967.0,524.8 971.9,526.2 975.8,523.6 970.9,522.2"/>
<polygon fill="#c0c0c0" points="957.6,535.2 962.4,534.5 992.4,514.7 987.6,515.4"/>
<polygon fill="#ffffff" points="971.2,526.2 976.0,525.5 979.9,522.9 975.1,523.6"/>
<polygon fill="#c0c0c0" points="961.8,534.5 966.6,535.9 996.6,516.1 991.8,514.7"/>
<polygon fill="#ffffff" points="975.4,525.5 980.2,526.9 984.1,524.3 979.3,522.9"/>
<polygon fill="#c0c0c0" points="966.0,535.9 968.7,532.4 998.7,512.6 996.0,516.1"/>
<polygon fill="#ffffff" points="979.6,526.9 982.4,523.4 986.2,520.8 983.5,524.3"/>
<polygon fill="#c0c0c0" points="968.1,532.4 971.5,530.4 1001.5,510.6 998.1,512.6"/>
<polygon fill="#ffffff" points="981.8,523.4 985.1,521.4 989.0,518.8 985.6,520.8"/>
<polygon fill="#c0c0c0" points="970.9,530.4 975.0,533.8 1005.0,514.0 1000.9,510.6"/>
<polygon fill="#ffffff" points="984.5,521.4 988.6,524.8 992.5,522.2 988.4,518.8"/>
<polygon fill="#c0c0c0" points="974.4,533.8 979.2,538.0 1009.2,518.2 1004.4,514.0"/>
<polygon fill="#ffffff" points="988.0,524.8 992.9,529.0 996.8,526.4 991.9,522.2"/>
<polygon fill="#c0c0c0" points="978.6,538.0 982.7,542.9 1012.7,523.1 1008.6,518.2"/>
<polygon fill="#ffffff" points="992.2,529.0 996.4,533.9 1000.2,531.3 996.1,526.4"/>
<polygon fill="#c0c0c0" points="982.1,542.9 985.5,547.8 1015.5,528.0 1012.1,523.1"/>
<polygon fill="#ffffff" points="995.8,533.9 999.1,538.8 1003.0,536.2 999.6,531.3"/>
<polygon fill="#c0c0c0" points="984.9,547.8 988.9,553.4 1018.9,533.6 1014.9,528.0"/>
<polygon fill="#ffffff" points="998.5,538.8 1002.5,544.4 1006.4,541.8 1002.4,536.2"/>
<polygon fill="#c0c0c0" points="988.3,553.4 993.1,556.9 1023.1,537.1 1018.3,533.6"/>
<polygon fill="#ffffff" points="1001.9,544.4 1006.8,547.9 1010.6,545.3 1005.8,541.8"/>
<polygon fill="#c0c0c0" points="992.5,556.9 997.3,559.7 1027.3,539.9 1022.5,537.1"/>
<polygon fill="#ffffff" points="1006.1,547.9 1011.0,550.7 1014.9,548.1 1010.0,545.3"/>
<polygon fill="#c0c0c0" points="996.7,559.7 1000.6,561.9 1030.6,542.1 1026.7,539.9"/>
<polygon fill="#ffffff" points="1010.4,550.7 1014.2,552.9 1018.1,550.3 1014.2,548.1"/>
<polygon fill="#c0c0c0" points="1000.0,561.9 1004.8,564.7 1034.8,544.9 1030.0,542.1"/>
<polygon fill="#ffffff" points="1013.6,552.9 1018.5,555.7 1022.4,553.1 1017.5,550.3"/>
<polygon fill="#c0c0c0" points="1004.2,564.7 1009.0,568.9 1039.0,549.1 1034.2,544.9"/>
<polygon fill="#ffffff" points="1017.9,555.7 1022.6,559.9 1026.5,557.3 1021.8,553.1"/>
<polygon fill="#c0c0c0" points="1008.4,568.9 1013.2,572.4 1043.2,552.6 1038.4,549.1"/>
<polygon fill="#ffffff" points="1022.0,559.9 1026.9,563.4 1030.8,560.8 1026.0,557.3"/>
<polygon fill="#c0c0c0" points="1012.6,572.4 1017.4,575.2 1047.4,555.4 1042.6,552.6"/>
<polygon fill="#ffffff" points="1026.2,563.4 1031.0,566.2 1035.0,563.6 1030.2,560.8"/>
<polygon fill="#c0c0c0" points="1016.8,575.2 1023.0,578.0 1053.0,558.2 1046.8,555.4"/>
<polygon fill="#ffffff" points="1030.5,566.2 1036.7,569.0 1040.5,566.4 1034.3,563.6"/>
<polygon fill="#c0c0c0" points="1022.4,578.0 1028.5,580.8 1058.5,561.0 1052.4,558.2"/>
<polygon fill="#ffffff" points="1036.0,569.0 1042.2,571.8 1046.0,569.2 1040.0,566.4"/>
<polygon fill="#c0c0c0" points="1027.9,580.8 1034.1,583.6 1064.1,563.8 1057.9,561.0"/>
<polygon fill="#ffffff" points="1041.6,571.8 1047.8,574.6 1051.6,572.0 1045.5,569.2"/>
<polygon fill="#c0c0c0" points="1033.5,583.6 1039.7,585.7 1069.7,565.9 1063.5,563.8"/>
<polygon fill="#ffffff" points="1047.2,574.6 1053.3,576.7 1057.2,574.1 1051.0,572.0"/>
<polygon fill="#c0c0c0" points="1039.1,585.7 1045.3,587.8 1075.3,568.0 1069.1,565.9"/>
<polygon fill="#ffffff" points="1052.8,576.7 1059.0,578.8 1062.8,576.2 1056.6,574.1"/>
<polygon fill="#c0c0c0" points="1044.7,587.8 1050.2,588.2 1080.2,568.4 1074.7,568.0"/>
<polygon fill="#ffffff" points="1058.4,578.8 1063.8,579.2 1067.7,576.6 1062.2,576.2"/>
<polygon fill="#c0c0c0" points="1049.6,588.2 1054.4,585.7 1084.4,565.9 1079.6,568.4"/>
<polygon fill="#ffffff" points="1063.2,579.2 1068.0,576.7 1071.9,574.1 1067.1,576.6"/>
<polygon fill="#c0c0c0" points="1053.8,585.7 1057.9,585.4 1087.9,565.6 1083.8,565.9"/>
<polygon fill="#ffffff" points="1067.5,576.7 1071.5,576.4 1075.4,573.8 1071.3,574.1"/>
<polygon fill="#c0c0c0" points="1057.3,585.4 1062.1,587.8 1092.1,568.0 1087.3,565.6"/>
<polygon fill="#ffffff" points="1071.0,576.4 1075.8,578.8 1079.6,576.2 1074.8,573.8"/>
<polygon fill="#c0c0c0" points="1061.5,587.8 1066.3,588.8 1096.3,569.0 1091.5,568.0"/>
<polygon fill="#ffffff" points="1075.2,578.8 1080.0,579.8 1083.8,577.2 1079.0,576.2"/>
<polygon fill="#c0c0c0" points="1065.7,588.8 1070.5,589.5 1100.5,569.7 1095.7,569.0"/>
<polygon fill="#ffffff" points="1079.4,579.8 1084.2,580.5 1088.0,577.9 1083.2,577.2"/>
<polygon fill="#c0c0c0" points="1069.9,589.5 1074.7,591.3 1104.7,571.5 1099.9,569.7"/>
<polygon fill="#ffffff" points="1083.6,580.5 1088.3,582.3 1092.2,579.7 1087.5,577.9"/>
<polygon fill="#c0c0c0" points="1074.1,591.3 1078.9,593.4 1108.9,573.6 1104.1,571.5"/>
<polygon fill="#ffffff" points="1087.8,582.3 1092.5,584.4 1096.4,581.8 1091.6,579.7"/>
<polygon fill="#c0c0c0" points="1078.3,593.4 1083.0,596.9 1113.0,577.1 1108.3,573.6"/>
<polygon fill="#ffffff" points="1092.0,584.4 1096.7,587.9 1100.5,585.3 1095.8,581.8"/>
<polygon fill="#c0c0c0" points="1082.4,596.9 1087.2,599.7 1117.2,579.9 1112.4,577.1"/>
<polygon fill="#ffffff" points="1096.1,587.9 1100.8,590.7 1104.7,588.1 1100.0,585.3"/>
<polygon fill="#c0c0c0" points="1086.6,599.7 1090.7,602.2 1120.7,582.4 1116.6,579.9"/>
<polygon fill="#ffffff" points="1100.2,590.7 1104.3,593.2 1108.2,590.6 1104.1,588.1"/>
<polygon fill="#c0c0c0" points="1090.1,602.2 1094.2,601.1 1124.2,581.3 1120.1,582.4"/>
<polygon fill="#ffffff" points="1103.8,593.2 1107.8,592.1 1111.7,589.5 1107.6,590.6"/>
<polygon fill="#c0c0c0" points="1093.6,601.1 1097.0,599.9 1127.0,580.1 1123.6,581.3"/>
<polygon fill="#ffffff" points="1107.2,592.1 1110.7,590.9 1114.5,588.3 1111.1,589.5"/>
<polygon fill="#c0c0c0" points="1096.4,599.9 1099.8,603.8 1129.8,584.0 1126.4,580.1"/>
<polygon fill="#ffffff" points="1110.1,590.9 1113.5,594.8 1117.3,592.2 1114.0,588.3"/>
<polygon fill="#c0c0c0" points="1099.2,603.8 1101.9,600.4 1131.9,580.6 1129.2,584.0"/>
<polygon fill="#ffffff" points="1112.9,594.8 1115.5,591.4 1119.4,588.8 1116.8,592.2"/>
<polygon fill="#c0c0c0" points="1101.3,600.4 1104.7,599.7 1134.7,579.9 1131.3,580.6"/>
<polygon fill="#ffffff" points="1115.0,591.4 1118.3,590.7 1122.2,588.1 1118.8,588.8"/>
<polygon fill="#c0c0c0" points="1104.1,599.7 1107.5,601.1 1137.5,581.3 1134.1,579.9"/>
<polygon fill="#ffffff" points="1117.8,590.7 1121.2,592.1 1125.0,589.5 1121.6,588.1"/>
<polygon fill="#c0c0c0" points="1106.9,601.1 1111.0,601.8 1141.0,582.0 1136.9,581.3"/>
<polygon fill="#ffffff" points="1120.6,592.1 1124.7,592.8 1128.5,590.2 1124.5,589.5"/>
<polygon fill="#c0c0c0" points="1110.4,601.8 1113.8,603.1 1143.8,583.3 1140.4,582.0"/>
<polygon fill="#ffffff" points="1124.1,592.8 1127.5,594.1 1131.3,591.5 1128.0,590.2"/>
<polygon fill="#c0c0c0" points="1113.2,603.1 1116.9,603.6 1146.9,583.8 1143.2,583.3"/>
<polygon fill="#ffffff" points="1126.9,594.1 1130.5,594.6 1134.4,592.0 1130.8,591.5"/>
<polygon fill="#808080" points="1116.5,603.6 1146.5,583.8 1146.5,594.2 1116.5,614.0"/>
<polygon fill="#ffff00" points="50.5,614.0 50.8,602.4 52.4,600.0 54.3,598.5 57.1,599.1 60.8,598.5 64.1,598.5 65.9,601.0 67.8,602.8 69.7,603.3 71.5,601.0 73.9,596.8 75.7,594.5 78.0,594.2 79.9,595.4 82.2,596.3 85.0,594.9 87.8,593.0 89.7,590.7 91.6,588.0 93.4,586.6 95.3,587.5 98.1,590.3 100.9,592.1 103.7,594.0 106.5,596.8 110.2,600.5 113.9,605.2 116.7,606.6 119.5,604.7 122.3,601.5 125.1,599.6 126.9,599.1 129.7,600.3 133.5,599.6 137.2,598.7 140.9,598.2 145.6,597.5 154.0,592.9 161.0,592.2 166.6,592.9 170.7,589.4 174.9,585.9 181.9,584.5 190.3,583.1 198.7,582.4 202.9,579.7 207.1,574.8 209.9,571.5 212.7,570.6 216.2,573.4 219.7,574.8 223.1,574.8 228.0,571.3 232.2,574.1 237.8,578.3 243.0,582.2 247.6,577.6 251.8,574.1 256.0,570.2 261.6,568.5 268.6,565.7 272.8,565.0 275.5,563.6 277.6,558.7 280.4,554.5 283.9,550.3 288.1,547.5 291.5,546.0 293.5,546.4 295.6,547.4 300.5,542.2 305.4,536.9 309.6,536.4 313.8,536.9 319.3,540.1 322.8,537.8 328.4,541.1 331.9,539.4 334.7,536.6 338.9,538.3 345.9,537.8 352.9,537.3 359.9,536.6 364.0,535.5 368.3,532.4 373.8,529.9 379.4,527.6 385.0,523.4 390.6,518.5 394.1,516.4 397.6,518.0 401.8,518.0 406.0,515.4 410.2,512.9 414.4,509.4 418.6,505.2 422.8,500.3 426.9,498.2 431.1,495.4 436.7,491.2 440.0,487.8 445.6,482.5 451.2,477.6 456.8,469.9 462.4,463.6 467.9,457.4 472.4,452.5 476.3,454.6 481.9,460.2 487.5,465.0 493.1,472.0 498.7,478.3 504.3,485.3 509.9,491.6 515.5,497.9 521.0,502.1 526.6,505.6 532.2,511.2 537.8,517.4 543.4,521.6 549.0,525.8 554.6,531.4 558.8,535.6 562.7,539.8 565.8,538.4 571.4,536.3 575.5,532.8 579.7,530.0 585.3,527.9 590.9,525.8 595.6,524.6 599.8,523.5 606.8,524.3 613.8,523.5 618.6,521.1 623.5,514.8 629.1,510.9 633.3,513.4 640.3,512.0 645.9,507.8 650.1,506.1 655.7,505.0 661.3,502.9 666.9,500.1 671.0,494.5 673.8,493.6 678.0,493.8 682.2,492.4 686.4,491.0 690.6,487.6 694.8,485.7 699.0,482.0 701.8,478.5 706.0,476.4 710.2,473.6 714.4,469.4 717.2,465.2 721.4,458.2 725.6,451.9 729.7,445.6 733.9,438.6 738.1,433.1 740.0,431.5 744.9,423.6 749.8,416.9 754.7,408.9 759.6,401.6 764.5,394.8 769.3,390.0 774.2,385.7 777.9,383.8 782.2,383.5 785.8,383.8 788.3,380.2 791.4,378.3 793.8,375.9 796.2,377.1 799.9,382.0 804.8,385.7 809.7,390.6 814.6,396.7 819.5,402.2 823.1,408.9 826.8,413.8 830.5,418.7 834.1,426.0 837.8,432.1 842.7,439.5 847.6,445.6 850.0,450.5 855.6,460.5 861.2,468.2 865.4,474.5 871.0,481.4 875.2,487.0 877.2,494.0 882.1,496.1 886.3,503.1 891.9,511.5 897.5,519.9 901.7,527.6 903.8,531.0 908.7,533.1 912.9,534.1 917.1,535.9 922.7,535.9 926.2,533.8 929.7,529.7 932.4,527.6 935.5,527.6 938.0,530.4 942.2,534.5 945.7,537.3 948.5,533.8 953.4,533.8 957.6,535.2 961.8,534.5 966.0,535.9 968.1,532.4 970.9,530.4 974.4,533.8 978.6,538.0 982.1,542.9 984.9,547.8 988.3,553.4 992.5,556.9 996.7,559.7 1000.0,561.9 1004.2,564.7 1008.4,568.9 1012.6,572.4 1016.8,575.2 1022.4,578.0 1027.9,580.8 1033.5,583.6 1039.1,585.7 1044.7,587.8 1049.6,588.2 1053.8,585.7 1057.3,585.4 1061.5,587.8 1065.7,588.8 1069.9,589.5 1074.1,591.3 1078.3,593.4 1082.4,596.9 1086.6,599.7 1090.1,602.2 1093.6,601.1 1096.4,599.9 1099.2,603.8 1101.3,600.4 1104.1,599.7 1106.9,601.1 1110.4,601.8 1113.2,603.1 1116.3,603.6 1116.5,614.0"/>
</g>
<polyline fill="none" stroke="#202000" stroke-width="1" shape-rendering="crispEdges" points="50.8,602.4 52.4,600.0 54.3,598.5 57.1,599.1 60.8,598.5 64.1,598.5 65.9,601.0 67.8,602.8 69.7,603.3 71.5,601.0 73.9,596.8 75.7,594.5 78.0,594.2 79.9,595.4 82.2,596.3 85.0,594.9 87.8,593.0 89.7,590.7 91.6,588.0 93.4,586.6 95.3,587.5 98.1,590.3 100.9,592.1 103.7,594.0 106.5,596.8 110.2,600.5 113.9,605.2 116.7,606.6 119.5,604.7 122.3,601.5 125.1,599.6 126.9,599.1 129.7,600.3 133.5,599.6 137.2,598.7 140.9,598.2 145.6,597.5 154.0,592.9 161.0,592.2 166.6,592.9 170.7,589.4 174.9,585.9 181.9,584.5 190.3,583.1 198.7,582.4 202.9,579.7 207.1,574.8 209.9,571.5 212.7,570.6 216.2,573.4 219.7,574.8 223.1,574.8 228.0,571.3 232.2,574.1 237.8,578.3 243.0,582.2 247.6,577.6 251.8,574.1 256.0,570.2 261.6,568.5 268.6,565.7 272.8,565.0 275.5,563.6 277.6,558.7 280.4,554.5 283.9,550.3 288.1,547.5 291.5,546.0 293.5,546.4 295.6,547.4 300.5,542.2 305.4,536.9 309.6,536.4 313.8,536.9 319.3,540.1 322.8,537.8 328.4,541.1 331.9,539.4 334.7,536.6 338.9,538.3 345.9,537.8 352.9,537.3 359.9,536.6 364.0,535.5 368.3,532.4 373.8,529.9 379.4,527.6 385.0,523.4 390.6,518.5 394.1,516.4 397.6,518.0 401.8,518.0 406.0,515.4 410.2,512.9 414.4,509.4 418.6,505.2 422.8,500.3 426.9,498.2 431.1,495.4 436.7,491.2 440.0,487.8 445.6,482.5 451.2,477.6 456.8,469.9 462.4,463.6 467.9,457.4 472.4,452.5 476.3,454.6 481.9,460.2 487.5,465.0 493.1,472.0 498.7,478.3 504.3,485.3 509.9,491.6 515.5,497.9 521.0,502.1 526.6,505.6 532.2,511.2 537.8,517.4 543.4,521.6 549.0,525.8 554.6,531.4 558.8,535.6 562.7,539.8 565.8,538.4 571.4,536.3 575.5,532.8 579.7,530.0 585.3,527.9 590.9,525.8 595.6,524.6 599.8,523.5 606.8,524.3 613.8,523.5 618.6,521.1 623.5,514.8 629.1,510.9 633.3,513.4 640.3,512.0 645.9,507.8 650.1,506.1 655.7,505.0 661.3,502.9 666.9,500.1 671.0,494.5 673.8,493.6 678.0,493.8 682.2,492.4 686.4,491.0 690.6,487.6 694.8,485.7 699.0,482.0 701.8,478.5 706.0,476.4 710.2,473.6 714.4,469.4 717.2,465.2 721.4,458.2 725.6,451.9 729.7,445.6 733.9,438.6 738.1,433.1 740.0,431.5 744.9,423.6 749.8,416.9 754.7,408.9 759.6,401.6 764.5,394.8 769.3,390.0 774.2,385.7 777.9,383.8 782.2,383.5 785.8,383.8 788.3,380.2 791.4,378.3 793.8,375.9 796.2,377.1 799.9,382.0 804.8,385.7 809.7,390.6 814.6,396.7 819.5,402.2 823.1,408.9 826.8,413.8 830.5,418.7 834.1,426.0 837.8,432.1 842.7,439.5 847.6,445.6 850.0,450.5 855.6,460.5 861.2,468.2 865.4,474.5 871.0,481.4 875.2,487.0 877.2,494.0 882.1,496.1 886.3,503.1 891.9,511.5 897.5,519.9 901.7,527.6 903.8,531.0 908.7,533.1 912.9,534.1 917.1,535.9 922.7,535.9 926.2,533.8 929.7,529.7 932.4,527.6 935.5,527.6 938.0,530.4 942.2,534.5 945.7,537.3 948.5,533.8 953.4,533.8 957.6,535.2 961.8,534.5 966.0,535.9 968.1,532.4 970.9,530.4 974.4,533.8 978.6,538.0 982.1,542.9 984.9,547.8 988.3,553.4 992.5,556.9 996.7,559.7 1000.0,561.9 1004.2,564.7 1008.4,568.9 1012.6,572.4 1016.8,575.2 1022.4,578.0 1027.9,580.8 1033.5,583.6 1039.1,585.7 1044.7,587.8 1049.6,588.2 1053.8,585.7 1057.3,585.4 1061.5,587.8 1065.7,588.8 1069.9,589.5 1074.1,591.3 1078.3,593.4 1082.4,596.9 1086.6,599.7 1090.1,602.2 1093.6,601.1 1096.4,599.9 1099.2,603.8 1101.3,600.4 1104.1,599.7 1106.9,601.1 1110.4,601.8 1113.2,603.1 1116.3,603.6"/>
<g stroke="#000" stroke-width="1" stroke-dasharray="4,3" shape-rendering="crispEdges" fill="none">
<line x1="50" y1="362.5" x2="1116" y2="362.5"/>
<line x1="50" y1="390.5" x2="1116" y2="390.5"/>
<line x1="50" y1="418.5" x2="1116" y2="418.5"/>
<line x1="50" y1="446.5" x2="1116" y2="446.5"/>
<line x1="50" y1="474.5" x2="1116" y2="474.5"/>
<line x1="50" y1="502.5" x2="1116" y2="502.5"/>
<line x1="50" y1="530.5" x2="1116" y2="530.5"/>
<line x1="50" y1="558.5" x2="1116" y2="558.5"/>
<line x1="50" y1="586.5" x2="1116" y2="586.5"/>
</g>
<g stroke="#000" stroke-width="1" stroke-dasharray="5,3" fill="none" shape-rendering="crispEdges">
<line x1="1116.5" y1="362.5" x2="1146.5" y2="342.7"/>
<line x1="1116.5" y1="390.5" x2="1146.5" y2="370.7"/>
<line x1="1116.5" y1="418.5" x2="1146.5" y2="398.7"/>
<line x1="1116.5" y1="446.5" x2="1146.5" y2="426.7"/>
<line x1="1116.5" y1="474.5" x2="1146.5" y2="454.7"/>
<line x1="1116.5" y1="502.5" x2="1146.5" y2="482.7"/>
<line x1="1116.5" y1="530.5" x2="1146.5" y2="510.7"/>
<line x1="1116.5" y1="558.5" x2="1146.5" y2="538.7"/>
<line x1="1116.5" y1="586.5" x2="1146.5" y2="566.7"/>
<line x1="1146.5" y1="342.7" x2="1146.5" y2="594.2" shape-rendering="crispEdges"/>
</g>
<g stroke="#000" stroke-width="1" shape-rendering="crispEdges">
<line x1="472.5" y1="362" x2="472.5" y2="452.0"/>
<line x1="649.5" y1="362" x2="649.5" y2="506.0"/>
<line x1="793.5" y1="362" x2="793.5" y2="376.0"/>
<line x1="1113.5" y1="362" x2="1113.5" y2="602.0"/>
</g>
<polyline fill="none" stroke="#7a7080" stroke-width="1" shape-rendering="crispEdges" points="50.5,310.0 56.0,310.0 60.8,316.0 65.6,322.0 72.0,326.0 84.8,326.0 91.0,331.0 142.0,331.0 148.8,326.0 180.8,326.0 188.8,331.0 252.8,331.0 259.0,337.0 275.0,337.0 280.0,331.0 347.0,331.0 352.0,330.0 358.0,326.0 376.0,326.0 382.0,331.0 472.0,331.0 472.6,317.4 474.6,315.0 481.6,322.0 491.0,328.6 504.0,332.8 518.4,337.0 545.6,337.0 561.6,341.4 568.0,337.0 577.6,336.6 584.0,331.0 592.0,326.0 609.6,326.0 617.6,321.6 635.0,321.6 640.0,323.0 643.8,326.0 651.0,321.6 708.8,321.6 715.0,326.0 720.0,321.6 732.8,321.6 736.0,325.4 742.4,326.0 747.0,331.0 752.0,331.0 756.8,337.0 771.0,337.0 778.0,331.0 785.6,331.0 790.4,337.0 790.8,331.0 803.0,331.0 812.8,334.0 822.4,337.0 832.0,340.4 840.0,342.4 852.8,342.4 857.6,339.8 867.0,337.0 1041.6,337.0 1048.0,340.8 1054.4,342.4 1060.8,339.0 1067.0,337.0 1073.6,339.8 1080.0,342.4 1100.8,342.4 1107.0,338.0 1116.0,337.0"/>
<polyline fill="none" stroke="#720072" stroke-width="1" shape-rendering="crispEdges" points="50.5,354.0 54.4,274.0 56.0,255.0 59.0,233.0 61.0,250.0 62.4,240.6 65.0,244.0 69.4,281.5 72.0,268.0 74.5,223.0 77.4,192.6 80.0,207.0 82.5,226.0 84.8,245.0 88.0,236.0 91.0,207.0 93.4,190.0 96.6,223.0 100.8,258.0 105.6,293.0 110.4,332.0 115.0,360.6 116.8,360.6 120.0,300.0 122.5,255.0 124.8,229.0 127.0,248.6 130.0,295.0 132.8,274.0 135.0,248.6 138.0,240.6 140.8,245.0 143.0,258.0 145.0,248.6 147.0,264.6 149.8,242.0 152.0,213.0 154.0,198.0 156.8,204.0 159.0,239.0 161.0,242.0 162.5,232.6 164.8,252.0 166.7,282.0 168.0,258.0 170.5,216.6 172.8,181.0 175.4,170.0 177.6,175.0 180.8,200.6 184.0,223.0 186.5,245.0 188.8,236.0 192.0,245.0 195.0,268.0 199.0,298.0 202.0,264.6 204.8,223.0 208.0,178.0 210.0,161.0 212.8,175.0 216.0,207.0 219.0,239.0 224.0,285.0 226.0,258.0 228.8,229.0 232.0,255.0 235.8,293.0 240.0,319.0 242.5,341.0 244.8,312.6 247.0,271.0 251.0,223.0 254.4,194.0 258.0,183.0 260.8,207.0 263.0,248.6 267.8,231.0 270.4,245.0 273.6,258.0 275.0,242.0 276.8,200.6 279.0,159.0 281.0,144.6 283.0,146.0 286.4,168.6 289.6,194.0 291.8,170.0 293.8,200.6 295.4,240.6 297.6,207.0 300.8,168.6 303.4,141.4 305.6,135.0 307.8,146.0 310.4,171.8 313.6,200.6 316.8,229.4 320.0,251.8 322.0,235.8 324.8,242.0 326.4,261.4 329.0,277.4 331.0,274.0 333.4,235.8 336.0,211.8 338.6,224.6 340.8,226.0 343.0,240.6 345.0,243.8 347.0,223.0 349.4,248.6 351.4,261.4 353.6,263.0 355.8,242.0 358.4,223.0 361.0,232.6 363.0,240.6 365.4,223.0 368.0,194.0 370.6,171.8 373.8,168.6 376.6,173.4 378.6,194.0 380.0,210.0 382.4,191.0 385.6,167.0 387.8,170.0 389.8,179.8 392.0,170.0 394.0,175.0 396.8,200.6 399.4,223.0 401.6,239.0 403.8,213.4 405.8,187.8 407.0,168.6 409.6,155.8 412.0,149.4 415.4,157.4 418.6,143.0 421.4,125.4 424.0,119.0 426.0,130.0 428.8,146.0 432.0,152.6 435.8,154.0 440.0,151.0 441.6,127.0 443.8,117.4 447.0,112.6 450.0,114.0 454.4,108.4 470.4,108.4 472.0,120.6 472.6,191.0 473.0,269.4 474.6,251.8 476.8,264.6 478.4,269.4 480.0,261.4 483.0,283.8 486.4,298.0 489.6,303.6 492.8,296.6 496.0,293.4 499.0,295.0 502.4,299.8 505.6,295.0 508.8,299.8 511.0,295.0 514.0,299.8 516.8,298.0 520.0,277.4 523.8,267.8 527.0,256.6 529.6,267.8 532.8,287.0 536.0,291.8 539.0,285.4 542.4,290.0 545.6,296.0 547.8,274.0 552.6,263.0 556.8,280.6 559.0,290.0 561.0,299.8 562.0,315.8 563.5,293.4 565.4,261.4 568.0,235.8 571.8,215.0 574.4,221.4 577.0,221.4 579.0,200.6 582.4,178.0 585.6,176.6 588.8,194.0 592.0,208.6 595.0,223.0 596.8,227.8 598.4,221.4 601.6,239.0 604.8,261.4 607.0,263.0 609.6,242.0 612.8,232.6 616.0,221.4 619.0,197.4 621.8,168.6 624.0,155.8 626.6,152.6 629.4,155.8 632.0,175.0 635.0,203.8 637.8,227.8 639.0,229.4 640.0,223.0 642.6,229.4 644.8,221.4 647.0,216.6 649.6,219.8 652.0,218.0 655.4,229.4 658.6,237.4 660.8,239.0 662.4,223.0 664.0,208.6 668.8,191.0 671.0,168.6 673.0,157.4 674.6,157.4 676.8,175.0 678.4,191.0 680.0,203.8 681.6,205.4 683.8,200.6 686.4,216.6 688.0,215.0 690.0,195.8 692.0,207.0 694.4,232.6 696.0,235.8 697.6,216.6 699.0,184.6 700.8,162.0 703.4,155.8 705.6,157.4 708.8,167.0 712.0,159.0 715.0,152.6 718.4,136.6 721.6,128.6 726.4,124.4 730.0,122.0 734.4,125.4 737.6,136.6 740.8,147.8 744.0,143.0 748.8,144.6 753.6,141.4 758.4,135.0 763.0,143.0 768.0,141.4 771.0,149.4 773.8,163.8 776.0,168.6 779.0,181.4 782.4,197.4 784.0,213.4 785.0,223.0 786.6,200.6 787.8,168.6 789.0,159.0 790.4,178.0 791.0,223.0 792.6,203.8 795.0,181.4 797.4,179.8 799.0,187.8 801.6,200.6 803.8,210.0 806.4,229.4 808.6,234.0 812.8,237.4 815.4,245.4 817.6,255.0 819.8,263.0 822.4,271.0 824.0,274.0 827.0,269.4 830.4,272.6 833.6,277.4 836.8,264.6 839.0,269.4 840.0,269.4 844.8,272.6 849.6,266.0 852.8,277.4 856.0,293.4 858.6,298.0 860.8,293.4 863.0,301.4 868.8,301.4 870.4,293.4 872.0,274.0 876.8,259.8 881.0,251.8 884.8,264.6 889.6,282.0 893.8,291.8 897.6,295.0 900.8,306.0 903.0,287.0 907.0,264.6 911.0,235.8 914.0,210.0 916.8,198.0 920.0,213.4 923.8,227.8 927.0,210.0 931.0,181.4 933.4,162.0 936.0,162.0 939.0,184.6 943.0,213.4 946.0,242.0 948.0,250.0 950.4,210.0 952.0,199.0 954.0,213.4 956.8,239.0 958.4,261.4 959.4,245.4 961.6,253.4 964.0,266.0 966.4,245.4 968.6,207.0 971.0,181.4 973.4,170.0 976.0,173.4 979.0,194.0 982.4,219.8 985.6,248.6 988.5,271.0 991.0,248.6 994.0,219.8 997.4,194.0 1000.6,187.8 1003.8,186.0 1006.4,183.0 1009.6,184.6 1014.4,184.0 1019.0,179.8 1023.0,171.8 1027.0,171.8 1030.4,187.8 1033.6,200.6 1036.8,197.4 1040.0,188.6 1044.8,175.0 1049.6,159.0 1053.8,146.0 1056.6,143.0 1059.0,149.4 1062.4,159.0 1065.6,171.8 1067.8,187.8 1069.8,200.6 1072.0,207.0 1075.0,223.0 1078.4,237.4 1081.0,237.4 1083.0,251.8 1086.4,271.0 1089.0,283.8 1090.6,296.6 1092.0,274.0 1093.4,261.4 1094.4,264.6 1095.7,227.8 1097.0,248.6 1098.0,274.0 1099.0,293.4 1100.0,274.0 1101.8,242.0 1103.0,227.8 1105.0,235.8 1107.0,258.0 1109.4,267.8 1111.4,272.6 1112.6,287.0 1113.6,280.6 1115.0,295.0 1116.0,299.8"/>
<polyline fill="none" stroke="#000064" stroke-width="1" shape-rendering="crispEdges" points="50.5,606.0 51.5,580.4 52.8,548.4 54.0,577.0 55.4,554.8 58.0,522.8 60.8,542.0 64.0,513.0 68.0,482.8 70.4,510.0 72.0,529.0 74.6,550.0 76.0,532.4 78.4,519.6 81.6,503.6 84.8,516.4 88.0,529.0 90.6,548.4 92.0,548.4 94.4,532.4 98.0,522.8 100.8,503.6 103.4,478.0 107.8,482.8 109.8,503.6 112.0,522.8 115.0,489.0 116.8,506.8 119.0,529.0 121.6,538.8 123.8,558.0 126.4,575.6 129.0,542.0 132.8,516.4 136.0,522.8 139.8,529.0 144.0,529.0 147.0,535.6 150.4,542.0 152.6,542.0 155.8,529.0 158.4,535.6 161.0,542.0 164.0,522.8 165.8,532.4 167.0,554.8 169.0,542.0 171.0,554.8 172.8,538.8 174.4,529.0 177.0,535.6 180.8,526.0 186.6,516.4 191.0,527.6 195.0,530.8 199.4,522.8 203.0,530.8 207.4,548.4 209.6,542.0 212.0,542.0 214.4,513.0 216.0,489.8 219.8,495.6 223.0,506.8 225.6,527.6 227.5,542.0 229.4,516.4 231.0,502.0 234.0,510.0 236.8,490.8 239.0,468.4 240.0,457.0 242.6,471.6 244.8,510.0 247.0,548.4 249.6,535.6 253.4,537.0 256.6,542.0 260.8,542.0 263.0,548.4 265.6,529.0 267.0,542.0 268.8,529.0 271.0,516.4 273.6,535.6 275.0,548.4 276.0,561.0 278.4,559.6 281.6,551.6 284.8,545.0 289.0,535.6 291.0,548.4 293.8,554.8 295.4,567.6 297.6,554.8 299.0,550.0 301.4,561.0 303.0,568.0 305.6,551.6 308.8,538.8 311.0,529.0 313.6,516.4 316.0,494.0 319.4,463.6 321.6,500.4 323.0,527.6 325.8,513.0 328.0,500.4 330.0,490.8 331.8,516.4 333.4,542.0 335.4,522.8 337.6,510.0 340.8,496.6 343.0,510.0 345.6,526.0 347.0,529.0 349.4,524.4 352.6,516.4 355.8,526.0 360.0,516.4 363.0,529.0 365.8,535.6 368.0,542.0 372.8,542.0 376.0,537.0 378.6,538.8 381.4,548.4 384.0,543.6 387.0,542.0 389.8,548.4 391.0,542.0 393.6,554.8 395.0,535.6 396.8,510.6 401.6,510.6 403.0,532.4 406.4,541.4 409.6,542.0 411.0,536.0 416.6,536.0 418.0,545.0 419.8,554.8 421.8,542.0 424.0,546.8 426.0,542.0 440.0,542.0 443.0,543.6 451.0,542.0 453.4,554.8 456.0,543.6 458.6,548.4 460.8,542.0 464.0,550.0 467.0,548.4 470.4,554.8 472.0,567.6 472.6,612.0 473.3,570.8 474.6,535.6 476.8,516.4 480.0,500.4 483.0,484.4 487.4,468.4 490.0,465.0 492.8,478.0 495.0,497.0 498.0,510.0 500.8,484.4 504.0,455.6 508.8,462.0 512.0,455.6 515.0,450.8 517.4,462.0 520.0,476.4 523.8,471.0 531.0,470.0 535.4,465.0 537.6,478.0 539.8,490.8 542.4,478.0 545.6,464.6 550.4,463.6 555.0,457.8 561.0,457.8 562.0,510.0 562.6,575.6 564.8,558.0 567.0,548.4 569.6,548.4 571.8,529.0 574.4,535.6 577.6,542.0 587.8,542.0 591.0,535.6 595.0,537.0 598.4,542.0 601.6,526.0 604.8,510.0 609.0,503.0 611.8,522.8 614.4,510.0 617.6,516.4 619.8,529.0 622.4,548.4 624.0,554.8 626.0,550.0 628.0,554.8 630.4,538.8 633.0,513.0 635.0,484.4 637.0,516.4 638.7,542.0 640.0,541.4 642.6,537.0 644.8,542.0 647.0,542.0 649.6,530.8 652.0,529.0 655.4,524.4 659.0,534.0 664.0,535.6 668.8,542.0 673.6,542.0 676.8,529.0 680.0,535.6 684.8,537.0 688.0,542.0 690.6,537.0 692.8,542.0 694.4,558.0 696.0,548.4 697.0,561.0 698.0,554.8 699.5,561.0 702.4,548.4 704.6,542.0 708.8,542.0 711.0,547.8 713.6,542.0 715.8,554.8 726.4,554.8 729.6,561.0 732.8,568.0 738.6,568.0 740.8,562.8 742.4,569.0 744.6,574.0 747.0,567.6 750.4,562.8 753.6,574.0 755.8,569.0 759.0,567.6 761.0,574.0 762.0,562.8 763.5,574.0 765.4,561.0 767.4,562.8 769.0,554.8 770.6,567.6 772.0,556.4 773.8,562.8 775.0,558.0 777.0,561.0 779.0,558.0 781.4,542.0 783.4,524.4 785.0,516.4 786.6,542.0 787.8,567.6 789.0,574.0 790.0,567.6 790.7,612.0 791.4,570.8 793.0,548.4 795.0,529.0 798.4,516.4 801.6,497.0 804.8,478.0 808.0,479.6 810.0,482.8 814.4,465.0 819.0,463.6 822.4,468.4 825.6,476.4 828.8,466.8 831.4,458.0 833.6,476.4 835.8,495.6 840.0,481.0 844.8,470.0 849.6,457.0 853.4,474.8 856.0,494.0 858.0,510.0 860.8,487.6 863.0,471.6 865.6,478.0 868.8,489.0 872.0,484.4 875.8,490.8 878.4,495.6 881.6,495.6 883.0,471.6 885.4,449.0 887.4,439.0 889.6,446.0 892.8,457.0 897.6,457.8 902.4,466.8 905.6,463.6 908.8,457.8 911.0,474.8 913.0,490.8 915.0,500.4 918.4,503.0 921.6,503.0 923.8,516.4 925.8,529.0 928.0,535.6 931.0,545.0 934.4,554.8 936.0,529.0 937.6,506.8 939.8,484.4 943.0,457.8 945.0,478.0 946.6,510.0 947.8,542.0 948.8,568.0 950.4,542.0 952.6,516.4 955.8,503.0 957.8,522.8 959.4,548.4 961.6,529.0 963.8,502.0 965.8,516.4 967.4,535.6 969.6,529.0 971.8,516.4 974.4,503.6 977.0,487.6 980.0,470.0 984.6,464.0 986.6,490.8 988.8,516.4 990.4,500.4 992.6,483.8 996.8,482.8 1000.0,468.4 1003.8,451.8 1008.6,457.0 1014.4,451.8 1016.6,458.8 1019.8,470.0 1024.0,477.0 1028.8,482.8 1033.6,482.8 1036.8,476.4 1039.0,471.0 1043.0,482.8 1048.0,483.8 1052.8,490.8 1055.0,503.6 1056.6,510.0 1059.0,494.0 1062.4,482.8 1065.6,471.0 1067.8,487.6 1069.8,503.0 1073.6,490.8 1078.4,495.6 1083.0,487.6 1087.4,483.8 1089.6,500.4 1091.0,529.0 1092.9,554.9 1095.0,550.0 1096.4,575.9 1097.8,545.2 1099.5,607.3 1101.3,560.5 1102.7,575.2 1104.1,559.1 1105.5,542.0 1107.0,516.4 1108.8,522.8 1111.0,542.0 1113.6,558.0 1115.0,580.4 1116.0,602.8"/>
<g fill="#00001c" shape-rendering="crispEdges"><rect x="472" y="570" width="2" height="25"/><rect x="472" y="595" width="1" height="19"/><rect x="790" y="573" width="2" height="17"/><rect x="790" y="590" width="1" height="24"/></g>
<g stroke="#000" stroke-width="1" shape-rendering="crispEdges">
<line x1="50.5" y1="70" x2="50.5" y2="619"/>
<line x1="1116.5" y1="70" x2="1116.5" y2="615"/>
<line x1="50" y1="70.5" x2="56" y2="70.5"/>
<line x1="50" y1="106.5" x2="56" y2="106.5"/>
<line x1="50" y1="143.5" x2="56" y2="143.5"/>
<line x1="50" y1="179.5" x2="56" y2="179.5"/>
<line x1="50" y1="215.5" x2="56" y2="215.5"/>
<line x1="50" y1="251.5" x2="56" y2="251.5"/>
<line x1="50" y1="288.5" x2="56" y2="288.5"/>
<line x1="50" y1="324.5" x2="56" y2="324.5"/>
<line x1="50" y1="360.5" x2="56" y2="360.5"/>
<line x1="50" y1="396.5" x2="56" y2="396.5"/>
<line x1="50" y1="433.5" x2="56" y2="433.5"/>
<line x1="50" y1="469.5" x2="56" y2="469.5"/>
<line x1="50" y1="505.5" x2="56" y2="505.5"/>
<line x1="50" y1="542.5" x2="56" y2="542.5"/>
<line x1="50" y1="578.5" x2="56" y2="578.5"/>
<line x1="45" y1="362.5" x2="51" y2="362.5"/>
<line x1="45" y1="390.5" x2="51" y2="390.5"/>
<line x1="45" y1="418.5" x2="51" y2="418.5"/>
<line x1="45" y1="446.5" x2="51" y2="446.5"/>
<line x1="45" y1="474.5" x2="51" y2="474.5"/>
<line x1="45" y1="502.5" x2="51" y2="502.5"/>
<line x1="45" y1="530.5" x2="51" y2="530.5"/>
<line x1="45" y1="558.5" x2="51" y2="558.5"/>
<line x1="45" y1="586.5" x2="51" y2="586.5"/>
<line x1="45" y1="614.5" x2="51" y2="614.5"/>
<line x1="1116" y1="70.5" x2="1121" y2="70.5"/>
<line x1="1116" y1="124.5" x2="1121" y2="124.5"/>
<line x1="1116" y1="179.5" x2="1121" y2="179.5"/>
<line x1="1116" y1="233.5" x2="1121" y2="233.5"/>
<line x1="1116" y1="288.5" x2="1121" y2="288.5"/>
<line x1="1116" y1="342.5" x2="1121" y2="342.5"/>
<line x1="1116" y1="396.5" x2="1121" y2="396.5"/>
<line x1="1116" y1="451.5" x2="1121" y2="451.5"/>
<line x1="1116" y1="505.5" x2="1121" y2="505.5"/>
<line x1="1116" y1="560.5" x2="1121" y2="560.5"/>
<line x1="1111" y1="190.5" x2="1117" y2="190.5"/>
<line x1="1111" y1="217.5" x2="1117" y2="217.5"/>
<line x1="1111" y1="244.5" x2="1117" y2="244.5"/>
<line x1="1111" y1="271.5" x2="1117" y2="271.5"/>
<line x1="1111" y1="298.5" x2="1117" y2="298.5"/>
<line x1="1111" y1="325.5" x2="1117" y2="325.5"/>
<line x1="1111" y1="352.5" x2="1117" y2="352.5"/>
<line x1="1111" y1="379.5" x2="1117" y2="379.5"/>
<line x1="1111" y1="406.5" x2="1117" y2="406.5"/>
<line x1="1111" y1="433.5" x2="1117" y2="433.5"/>
<line x1="1111" y1="460.5" x2="1117" y2="460.5"/>
<line x1="1111" y1="488.5" x2="1117" y2="488.5"/>
<line x1="1111" y1="515.5" x2="1117" y2="515.5"/>
<line x1="1111" y1="542.5" x2="1117" y2="542.5"/>
<line x1="1111" y1="569.5" x2="1117" y2="569.5"/>
<line x1="1111" y1="596.5" x2="1117" y2="596.5"/>
</g>
<text x="53" y="42" font-size="12" fill="#1c1c6c" textLength="26" lengthAdjust="spacing">km/h</text>
<text x="84.5" y="73.7" font-size="12" fill="#1c1c6c" text-anchor="end" textLength="21" lengthAdjust="spacing">150</text>
<text x="84.5" y="110.0" font-size="12" fill="#1c1c6c" text-anchor="end" textLength="21" lengthAdjust="spacing">140</text>
<text x="84.5" y="146.2" font-size="12" fill="#1c1c6c" text-anchor="end" textLength="21" lengthAdjust="spacing">130</text>
<text x="84.5" y="182.5" font-size="12" fill="#1c1c6c" text-anchor="end" textLength="21" lengthAdjust="spacing">120</text>
<text x="84.5" y="218.8" font-size="12" fill="#1c1c6c" text-anchor="end" textLength="21" lengthAdjust="spacing">110</text>
<text x="84.5" y="255.1" font-size="12" fill="#1c1c6c" text-anchor="end" textLength="21" lengthAdjust="spacing">100</text>
<text x="84.5" y="291.3" font-size="12" fill="#1c1c6c" text-anchor="end" textLength="14" lengthAdjust="spacing">90</text>
<text x="84.5" y="327.6" font-size="12" fill="#1c1c6c" text-anchor="end" textLength="14" lengthAdjust="spacing">80</text>
<text x="84.5" y="363.9" font-size="12" fill="#1c1c6c" text-anchor="end" textLength="14" lengthAdjust="spacing">70</text>
<text x="84.5" y="400.1" font-size="12" fill="#1c1c6c" text-anchor="end" textLength="14" lengthAdjust="spacing">60</text>
<text x="84.5" y="436.4" font-size="12" fill="#1c1c6c" text-anchor="end" textLength="14" lengthAdjust="spacing">50</text>
<text x="84.5" y="472.7" font-size="12" fill="#1c1c6c" text-anchor="end" textLength="14" lengthAdjust="spacing">40</text>
<text x="84.5" y="508.9" font-size="12" fill="#1c1c6c" text-anchor="end" textLength="14" lengthAdjust="spacing">30</text>
<text x="84.5" y="545.2" font-size="12" fill="#1c1c6c" text-anchor="end" textLength="14" lengthAdjust="spacing">20</text>
<text x="84.5" y="581.5" font-size="12" fill="#1c1c6c" text-anchor="end" textLength="14" lengthAdjust="spacing">10</text>
<text x="18" y="337.5" font-size="12" fill="#151515" textLength="17" lengthAdjust="spacing">hm</text>
<text x="39.8" y="366.0" font-size="12" fill="#151515" text-anchor="end" textLength="21" lengthAdjust="spacing">450</text>
<text x="39.8" y="394.0" font-size="12" fill="#151515" text-anchor="end" textLength="21" lengthAdjust="spacing">400</text>
<text x="39.8" y="422.0" font-size="12" fill="#151515" text-anchor="end" textLength="21" lengthAdjust="spacing">350</text>
<text x="39.8" y="450.0" font-size="12" fill="#151515" text-anchor="end" textLength="21" lengthAdjust="spacing">300</text>
<text x="39.8" y="478.0" font-size="12" fill="#151515" text-anchor="end" textLength="21" lengthAdjust="spacing">250</text>
<text x="39.8" y="506.0" font-size="12" fill="#151515" text-anchor="end" textLength="21" lengthAdjust="spacing">200</text>
<text x="39.8" y="534.0" font-size="12" fill="#151515" text-anchor="end" textLength="21" lengthAdjust="spacing">150</text>
<text x="39.8" y="562.0" font-size="12" fill="#151515" text-anchor="end" textLength="21" lengthAdjust="spacing">100</text>
<text x="39.8" y="590.0" font-size="12" fill="#151515" text-anchor="end" textLength="14" lengthAdjust="spacing">50</text>
<text x="39.8" y="618.0" font-size="12" fill="#151515" text-anchor="end">0</text>
<text x="1156" y="74.3" font-size="12" fill="#602068" text-anchor="end" textLength="21" lengthAdjust="spacing">200</text>
<text x="1156" y="128.7" font-size="12" fill="#602068" text-anchor="end" textLength="21" lengthAdjust="spacing">180</text>
<text x="1156" y="183.1" font-size="12" fill="#602068" text-anchor="end" textLength="21" lengthAdjust="spacing">160</text>
<text x="1156" y="237.5" font-size="12" fill="#602068" text-anchor="end" textLength="21" lengthAdjust="spacing">140</text>
<text x="1156" y="291.9" font-size="12" fill="#602068" text-anchor="end" textLength="21" lengthAdjust="spacing">120</text>
<text x="1156" y="346.3" font-size="12" fill="#602068" text-anchor="end" textLength="21" lengthAdjust="spacing">100</text>
<text x="1156" y="400.7" font-size="12" fill="#602068" text-anchor="end" textLength="14" lengthAdjust="spacing">80</text>
<text x="1156" y="455.1" font-size="12" fill="#602068" text-anchor="end" textLength="14" lengthAdjust="spacing">60</text>
<text x="1156" y="509.5" font-size="12" fill="#602068" text-anchor="end" textLength="14" lengthAdjust="spacing">40</text>
<text x="1156" y="563.9" font-size="12" fill="#602068" text-anchor="end" textLength="14" lengthAdjust="spacing">20</text>
<text x="1123" y="615.5" font-size="12" fill="#602068" textLength="31" lengthAdjust="spacing">P/Min</text>
<text x="1100" y="167.5" font-size="14" fill="#f07868" text-anchor="end">c</text>
<text x="1100.5" y="194.3" font-size="12" fill="#808080" fill-opacity="0.95" text-anchor="end" textLength="14" lengthAdjust="spacing">45</text>
<text x="1100.5" y="221.4" font-size="12" fill="#808080" fill-opacity="0.95" text-anchor="end" textLength="14" lengthAdjust="spacing">40</text>
<text x="1100.5" y="248.4" font-size="12" fill="#808080" fill-opacity="0.95" text-anchor="end" textLength="14" lengthAdjust="spacing">35</text>
<text x="1100.5" y="275.4" font-size="12" fill="#808080" fill-opacity="0.95" text-anchor="end" textLength="14" lengthAdjust="spacing">30</text>
<text x="1100.5" y="302.5" font-size="12" fill="#808080" fill-opacity="0.95" text-anchor="end" textLength="14" lengthAdjust="spacing">25</text>
<text x="1100.5" y="329.6" font-size="12" fill="#808080" fill-opacity="0.95" text-anchor="end" textLength="14" lengthAdjust="spacing">20</text>
<text x="1100.5" y="356.6" font-size="12" fill="#808080" fill-opacity="0.95" text-anchor="end" textLength="14" lengthAdjust="spacing">15</text>
<text x="1100.5" y="383.7" font-size="12" fill="#808080" fill-opacity="0.95" text-anchor="end" textLength="14" lengthAdjust="spacing">10</text>
<text x="1100.5" y="410.7" font-size="12" fill="#808080" fill-opacity="0.95" text-anchor="end">5</text>
<text x="1100.5" y="437.8" font-size="12" fill="#808080" fill-opacity="0.95" text-anchor="end">0</text>
<text x="1100.5" y="464.8" font-size="12" fill="#808080" fill-opacity="0.95" text-anchor="end" textLength="11" lengthAdjust="spacing">-5</text>
<text x="1100.5" y="491.9" font-size="12" fill="#808080" fill-opacity="0.95" text-anchor="end" textLength="18" lengthAdjust="spacing">-10</text>
<text x="1100.5" y="518.9" font-size="12" fill="#808080" fill-opacity="0.95" text-anchor="end" textLength="18" lengthAdjust="spacing">-15</text>
<text x="1100.5" y="546.0" font-size="12" fill="#808080" fill-opacity="0.95" text-anchor="end" textLength="18" lengthAdjust="spacing">-20</text>
<text x="1100.5" y="573.0" font-size="12" fill="#808080" fill-opacity="0.95" text-anchor="end" textLength="18" lengthAdjust="spacing">-25</text>
<text x="1100.5" y="600.0" font-size="12" fill="#808080" fill-opacity="0.95" text-anchor="end" textLength="18" lengthAdjust="spacing">-30</text>
<text transform="translate(60.0,347.5) rotate(-65)" font-size="13" font-weight="bold" fill="#000">Start: (13:00:00)</text>
<text transform="translate(482.3,346.5) rotate(-65)" font-size="13" font-weight="bold" fill="#000">Coll des Tords (Hauspässchen)</text>
<text transform="translate(659.8,346.5) rotate(-65)" font-size="13" font-weight="bold" fill="#000">Puigpunyent</text>
<text transform="translate(802.5,346.5) rotate(-65)" font-size="13" font-weight="bold" fill="#000">Galilea</text>
<text transform="translate(1122.0,346.5) rotate(-65)" font-size="13" font-weight="bold" fill="#000">Peguera (Radcrash</text>
<g shape-rendering="crispEdges">
<rect x="50" y="614" width="1067" height="5" fill="#000"/>
<rect x="51" y="615" width="115" height="3" fill="#fff"/>
<rect x="282" y="615" width="115" height="3" fill="#fff"/>
<rect x="513" y="615" width="115" height="3" fill="#fff"/>
<rect x="744" y="615" width="115" height="3" fill="#fff"/>
<rect x="975" y="615" width="115" height="3" fill="#fff"/>
</g>
<text x="48" y="632.5" font-size="12" fill="#151515" textLength="16" lengthAdjust="spacing">km</text>
<text x="159.0" y="632.5" font-size="12" fill="#151515">5</text>
<text x="274.6" y="632.5" font-size="12" fill="#151515" textLength="14" lengthAdjust="spacing">10</text>
<text x="390.1" y="632.5" font-size="12" fill="#151515" textLength="14" lengthAdjust="spacing">15</text>
<text x="505.6" y="632.5" font-size="12" fill="#151515" textLength="14" lengthAdjust="spacing">20</text>
<text x="621.1" y="632.5" font-size="12" fill="#151515" textLength="14" lengthAdjust="spacing">25</text>
<text x="736.7" y="632.5" font-size="12" fill="#151515" textLength="14" lengthAdjust="spacing">30</text>
<text x="852.2" y="632.5" font-size="12" fill="#151515" textLength="14" lengthAdjust="spacing">35</text>
<text x="967.7" y="632.5" font-size="12" fill="#151515" textLength="14" lengthAdjust="spacing">40</text>
<text x="1083.2" y="632.5" font-size="12" fill="#000" stroke="#000" stroke-width="0.3" textLength="14" lengthAdjust="spacing">45</text>
<text x="48" y="651" font-size="12" fill="#c02020" textLength="17" lengthAdjust="spacing">hm</text>
<text x="48" y="669" font-size="12" fill="#151515" textLength="26" lengthAdjust="spacing">km/h</text>
<text x="153.5" y="651" font-size="12" fill="#c02020" text-anchor="middle" textLength="14" lengthAdjust="spacing">67</text>
<text x="153.5" y="669" font-size="12" fill="#151515" text-anchor="middle" textLength="31" lengthAdjust="spacing">22,80</text>
<text x="308.0" y="651" font-size="12" fill="#c02020" text-anchor="middle" textLength="21" lengthAdjust="spacing">203</text>
<text x="308.0" y="669" font-size="12" fill="#151515" text-anchor="middle" textLength="31" lengthAdjust="spacing">22,05</text>
<text x="461.0" y="651" font-size="12" fill="#c02020" text-anchor="middle" textLength="21" lengthAdjust="spacing">361</text>
<text x="461.0" y="669" font-size="12" fill="#151515" text-anchor="middle" textLength="31" lengthAdjust="spacing">22,06</text>
<text x="616.0" y="651" font-size="12" fill="#c02020" text-anchor="middle" textLength="21" lengthAdjust="spacing">420</text>
<text x="616.0" y="669" font-size="12" fill="#151515" text-anchor="middle" textLength="31" lengthAdjust="spacing">22,72</text>
<text x="770.0" y="651" font-size="12" fill="#c02020" text-anchor="middle" textLength="21" lengthAdjust="spacing">662</text>
<text x="770.0" y="669" font-size="12" fill="#151515" text-anchor="middle" textLength="31" lengthAdjust="spacing">21,27</text>
<text x="924.0" y="651" font-size="12" fill="#c02020" text-anchor="middle" textLength="21" lengthAdjust="spacing">690</text>
<text x="924.0" y="669" font-size="12" fill="#151515" text-anchor="middle" textLength="31" lengthAdjust="spacing">22,18</text>
<text x="1077.0" y="651" font-size="12" fill="#c02020" text-anchor="middle" textLength="21" lengthAdjust="spacing">728</text>
<text x="1077.0" y="669" font-size="12" fill="#151515" text-anchor="middle" textLength="31" lengthAdjust="spacing">23,22</text>
<g shape-rendering="crispEdges" stroke="#000" stroke-width="1" fill="none">
<rect x="50.5" y="684.5" width="1066" height="90"/>
<line x1="50" y1="696.5" x2="1116" y2="696.5" stroke-dasharray="4,3"/>
<line x1="50" y1="707.5" x2="1116" y2="707.5" stroke-dasharray="4,3"/>
<line x1="50" y1="718.5" x2="1116" y2="718.5" stroke-dasharray="4,3"/>
<line x1="50" y1="729.5" x2="1116" y2="729.5"/>
<line x1="50" y1="740.5" x2="1116" y2="740.5" stroke-dasharray="4,3"/>
<line x1="50" y1="751.5" x2="1116" y2="751.5" stroke-dasharray="4,3"/>
<line x1="50" y1="762.5" x2="1116" y2="762.5" stroke-dasharray="4,3"/>
<line x1="166.5" y1="684" x2="166.5" y2="689"/>
<line x1="166.5" y1="770" x2="166.5" y2="775"/>
<line x1="281.5" y1="684" x2="281.5" y2="689"/>
<line x1="281.5" y1="770" x2="281.5" y2="775"/>
<line x1="397.5" y1="684" x2="397.5" y2="689"/>
<line x1="397.5" y1="770" x2="397.5" y2="775"/>
<line x1="512.5" y1="684" x2="512.5" y2="689"/>
<line x1="512.5" y1="770" x2="512.5" y2="775"/>
<line x1="628.5" y1="684" x2="628.5" y2="689"/>
<line x1="628.5" y1="770" x2="628.5" y2="775"/>
<line x1="743.5" y1="684" x2="743.5" y2="689"/>
<line x1="743.5" y1="770" x2="743.5" y2="775"/>
<line x1="859.5" y1="684" x2="859.5" y2="689"/>
<line x1="859.5" y1="770" x2="859.5" y2="775"/>
<line x1="974.5" y1="684" x2="974.5" y2="689"/>
<line x1="974.5" y1="770" x2="974.5" y2="775"/>
<line x1="1090.5" y1="684" x2="1090.5" y2="689"/>
<line x1="1090.5" y1="770" x2="1090.5" y2="775"/>
</g>
<line x1="50.9" y1="728.5" x2="56.7" y2="724.3" stroke="#3a1212" stroke-width="1" shape-rendering="crispEdges"/>
<line x1="56.7" y1="724.3" x2="62.0" y2="726.6" stroke="#3a1212" stroke-width="1" shape-rendering="crispEdges"/>
<line x1="62.0" y1="726.6" x2="70.0" y2="734.7" stroke="#1c1c60" stroke-width="1" shape-rendering="crispEdges"/>
<line x1="70.0" y1="734.7" x2="75.2" y2="714.6" stroke="#3a1212" stroke-width="1" shape-rendering="crispEdges"/>
<line x1="75.2" y1="714.6" x2="83.5" y2="731.3" stroke="#3a1212" stroke-width="1" shape-rendering="crispEdges"/>
<line x1="83.5" y1="731.3" x2="89.0" y2="722.0" stroke="#3a1212" stroke-width="1" shape-rendering="crispEdges"/>
<line x1="89.0" y1="722.0" x2="93.7" y2="719.2" stroke="#3a1212" stroke-width="1" shape-rendering="crispEdges"/>
<line x1="93.7" y1="719.2" x2="101.4" y2="735.9" stroke="#3a1212" stroke-width="1" shape-rendering="crispEdges"/>
<line x1="101.4" y1="735.9" x2="109.5" y2="738.2" stroke="#1c1c60" stroke-width="1" shape-rendering="crispEdges"/>
<line x1="109.5" y1="738.2" x2="117.6" y2="735.9" stroke="#1c1c60" stroke-width="1" shape-rendering="crispEdges"/>
<line x1="117.6" y1="735.9" x2="122.7" y2="721.3" stroke="#3a1212" stroke-width="1" shape-rendering="crispEdges"/>
<line x1="122.7" y1="721.3" x2="125.7" y2="723.2" stroke="#3a1212" stroke-width="1" shape-rendering="crispEdges"/>
<line x1="125.7" y1="723.2" x2="131.0" y2="730.0" stroke="#3a1212" stroke-width="1" shape-rendering="crispEdges"/>
<line x1="131.0" y1="730.0" x2="136.0" y2="727.3" stroke="#3a1212" stroke-width="1" shape-rendering="crispEdges"/>
<line x1="136.0" y1="727.3" x2="148.4" y2="727.3" stroke="#3a1212" stroke-width="1" shape-rendering="crispEdges"/>
<line x1="148.4" y1="727.3" x2="154.6" y2="722.5" stroke="#3a1212" stroke-width="1" shape-rendering="crispEdges"/>
<line x1="154.6" y1="722.5" x2="159.3" y2="729.0" stroke="#3a1212" stroke-width="1" shape-rendering="crispEdges"/>
<line x1="159.3" y1="729.0" x2="163.9" y2="730.6" stroke="#3a1212" stroke-width="1" shape-rendering="crispEdges"/>
<line x1="163.9" y1="730.6" x2="166.7" y2="730.0" stroke="#3a1212" stroke-width="1" shape-rendering="crispEdges"/>
<line x1="166.7" y1="730.0" x2="169.7" y2="721.3" stroke="#3a1212" stroke-width="1" shape-rendering="crispEdges"/>
<line x1="169.7" y1="721.3" x2="174.3" y2="722.0" stroke="#3a1212" stroke-width="1" shape-rendering="crispEdges"/>
<line x1="174.3" y1="722.0" x2="181.7" y2="727.3" stroke="#3a1212" stroke-width="1" shape-rendering="crispEdges"/>
<line x1="181.7" y1="727.3" x2="201.0" y2="727.3" stroke="#3a1212" stroke-width="1" shape-rendering="crispEdges"/>
<line x1="201.0" y1="727.3" x2="205.6" y2="720.4" stroke="#3a1212" stroke-width="1" shape-rendering="crispEdges"/>
<line x1="205.6" y1="720.4" x2="212.5" y2="720.4" stroke="#3a1212" stroke-width="1" shape-rendering="crispEdges"/>
<line x1="212.5" y1="720.4" x2="218.3" y2="732.4" stroke="#3a1212" stroke-width="1" shape-rendering="crispEdges"/>
<line x1="218.3" y1="732.4" x2="226.4" y2="727.3" stroke="#3a1212" stroke-width="1" shape-rendering="crispEdges"/>
<line x1="226.4" y1="727.3" x2="232.2" y2="730.0" stroke="#3a1212" stroke-width="1" shape-rendering="crispEdges"/>
<line x1="232.2" y1="730.0" x2="242.6" y2="735.9" stroke="#1c1c60" stroke-width="1" shape-rendering="crispEdges"/>
<line x1="242.6" y1="735.9" x2="248.4" y2="719.2" stroke="#3a1212" stroke-width="1" shape-rendering="crispEdges"/>
<line x1="248.4" y1="719.2" x2="257.7" y2="723.2" stroke="#3a1212" stroke-width="1" shape-rendering="crispEdges"/>
<line x1="257.7" y1="723.2" x2="264.0" y2="727.3" stroke="#3a1212" stroke-width="1" shape-rendering="crispEdges"/>
<line x1="264.0" y1="727.3" x2="268.0" y2="726.2" stroke="#3a1212" stroke-width="1" shape-rendering="crispEdges"/>
<line x1="268.0" y1="726.2" x2="275.7" y2="726.2" stroke="#3a1212" stroke-width="1" shape-rendering="crispEdges"/>
<line x1="275.7" y1="726.2" x2="278.5" y2="712.3" stroke="#3a1212" stroke-width="1" shape-rendering="crispEdges"/>
<line x1="278.5" y1="712.3" x2="282.0" y2="718.5" stroke="#3a1212" stroke-width="1" shape-rendering="crispEdges"/>
<line x1="282.0" y1="718.5" x2="289.0" y2="725.5" stroke="#3a1212" stroke-width="1" shape-rendering="crispEdges"/>
<line x1="289.0" y1="725.5" x2="292.0" y2="719.2" stroke="#3a1212" stroke-width="1" shape-rendering="crispEdges"/>
<line x1="292.0" y1="719.2" x2="295.4" y2="740.0" stroke="#3a1212" stroke-width="1" shape-rendering="crispEdges"/>
<line x1="295.4" y1="740.0" x2="297.7" y2="740.0" stroke="#1c1c60" stroke-width="1" shape-rendering="crispEdges"/>
<line x1="297.7" y1="740.0" x2="300.5" y2="722.0" stroke="#1c1c60" stroke-width="1" shape-rendering="crispEdges"/>
<line x1="300.5" y1="722.0" x2="304.2" y2="714.6" stroke="#3a1212" stroke-width="1" shape-rendering="crispEdges"/>
<line x1="304.2" y1="714.6" x2="309.3" y2="725.5" stroke="#3a1212" stroke-width="1" shape-rendering="crispEdges"/>
<line x1="309.3" y1="725.5" x2="316.2" y2="733.0" stroke="#3a1212" stroke-width="1" shape-rendering="crispEdges"/>
<line x1="316.2" y1="733.0" x2="324.3" y2="728.5" stroke="#1c1c60" stroke-width="1" shape-rendering="crispEdges"/>
<line x1="324.3" y1="728.5" x2="332.4" y2="730.0" stroke="#3a1212" stroke-width="1" shape-rendering="crispEdges"/>
<line x1="332.4" y1="730.0" x2="339.4" y2="728.5" stroke="#3a1212" stroke-width="1" shape-rendering="crispEdges"/>
<line x1="339.4" y1="728.5" x2="348.6" y2="728.5" stroke="#3a1212" stroke-width="1" shape-rendering="crispEdges"/>
<line x1="348.6" y1="728.5" x2="356.7" y2="727.0" stroke="#3a1212" stroke-width="1" shape-rendering="crispEdges"/>
<line x1="356.7" y1="727.0" x2="366.0" y2="727.8" stroke="#3a1212" stroke-width="1" shape-rendering="crispEdges"/>
<line x1="366.0" y1="727.8" x2="370.6" y2="722.0" stroke="#3a1212" stroke-width="1" shape-rendering="crispEdges"/>
<line x1="370.6" y1="722.0" x2="376.4" y2="726.2" stroke="#3a1212" stroke-width="1" shape-rendering="crispEdges"/>
<line x1="376.4" y1="726.2" x2="379.9" y2="725.5" stroke="#3a1212" stroke-width="1" shape-rendering="crispEdges"/>
<line x1="379.9" y1="725.5" x2="386.0" y2="720.0" stroke="#3a1212" stroke-width="1" shape-rendering="crispEdges"/>
<line x1="386.0" y1="720.0" x2="395.0" y2="725.5" stroke="#3a1212" stroke-width="1" shape-rendering="crispEdges"/>
<line x1="395.0" y1="725.5" x2="401.9" y2="730.8" stroke="#3a1212" stroke-width="1" shape-rendering="crispEdges"/>
<line x1="401.9" y1="730.8" x2="407.0" y2="720.8" stroke="#3a1212" stroke-width="1" shape-rendering="crispEdges"/>
<line x1="407.0" y1="720.8" x2="413.5" y2="720.8" stroke="#3a1212" stroke-width="1" shape-rendering="crispEdges"/>
<line x1="413.5" y1="720.8" x2="418.0" y2="722.0" stroke="#3a1212" stroke-width="1" shape-rendering="crispEdges"/>
<line x1="418.0" y1="722.0" x2="423.0" y2="717.4" stroke="#3a1212" stroke-width="1" shape-rendering="crispEdges"/>
<line x1="423.0" y1="717.4" x2="428.5" y2="725.5" stroke="#3a1212" stroke-width="1" shape-rendering="crispEdges"/>
<line x1="428.5" y1="725.5" x2="433.8" y2="720.8" stroke="#3a1212" stroke-width="1" shape-rendering="crispEdges"/>
<line x1="433.8" y1="720.8" x2="438.5" y2="724.3" stroke="#3a1212" stroke-width="1" shape-rendering="crispEdges"/>
<line x1="438.5" y1="724.3" x2="443.6" y2="719.2" stroke="#3a1212" stroke-width="1" shape-rendering="crispEdges"/>
<line x1="443.6" y1="719.2" x2="449.4" y2="722.0" stroke="#3a1212" stroke-width="1" shape-rendering="crispEdges"/>
<line x1="449.4" y1="722.0" x2="456.3" y2="717.4" stroke="#3a1212" stroke-width="1" shape-rendering="crispEdges"/>
<line x1="456.3" y1="717.4" x2="462.0" y2="719.7" stroke="#3a1212" stroke-width="1" shape-rendering="crispEdges"/>
<line x1="462.0" y1="719.7" x2="466.7" y2="718.5" stroke="#3a1212" stroke-width="1" shape-rendering="crispEdges"/>
<line x1="466.7" y1="718.5" x2="471.4" y2="719.0" stroke="#3a1212" stroke-width="1" shape-rendering="crispEdges"/>
<line x1="471.4" y1="719.0" x2="471.8" y2="707.6" stroke="#3a1212" stroke-width="1" shape-rendering="crispEdges"/>
<line x1="471.8" y1="707.6" x2="472.5" y2="729.4" stroke="#3a1212" stroke-width="1" shape-rendering="crispEdges"/>
<line x1="472.5" y1="729.4" x2="474.0" y2="732.4" stroke="#1c1c60" stroke-width="1" shape-rendering="crispEdges"/>
<line x1="474.0" y1="732.4" x2="478.3" y2="737.0" stroke="#1c1c60" stroke-width="1" shape-rendering="crispEdges"/>
<line x1="478.3" y1="737.0" x2="487.6" y2="738.7" stroke="#1c1c60" stroke-width="1" shape-rendering="crispEdges"/>
<line x1="487.6" y1="738.7" x2="496.8" y2="741.0" stroke="#1c1c60" stroke-width="1" shape-rendering="crispEdges"/>
<line x1="496.8" y1="741.0" x2="508.4" y2="740.0" stroke="#1c1c60" stroke-width="1" shape-rendering="crispEdges"/>
<line x1="508.4" y1="740.0" x2="518.8" y2="738.7" stroke="#1c1c60" stroke-width="1" shape-rendering="crispEdges"/>
<line x1="518.8" y1="738.7" x2="527.4" y2="734.7" stroke="#1c1c60" stroke-width="1" shape-rendering="crispEdges"/>
<line x1="527.4" y1="734.7" x2="537.4" y2="740.0" stroke="#1c1c60" stroke-width="1" shape-rendering="crispEdges"/>
<line x1="537.4" y1="740.0" x2="547.8" y2="735.9" stroke="#1c1c60" stroke-width="1" shape-rendering="crispEdges"/>
<line x1="547.8" y1="735.9" x2="557.0" y2="737.7" stroke="#1c1c60" stroke-width="1" shape-rendering="crispEdges"/>
<line x1="557.0" y1="737.7" x2="563.5" y2="740.0" stroke="#1c1c60" stroke-width="1" shape-rendering="crispEdges"/>
<line x1="563.5" y1="740.0" x2="566.3" y2="727.8" stroke="#1c1c60" stroke-width="1" shape-rendering="crispEdges"/>
<line x1="566.3" y1="727.8" x2="568.0" y2="722.0" stroke="#3a1212" stroke-width="1" shape-rendering="crispEdges"/>
<line x1="568.0" y1="722.0" x2="573.4" y2="727.0" stroke="#3a1212" stroke-width="1" shape-rendering="crispEdges"/>
<line x1="573.4" y1="727.0" x2="583.0" y2="720.8" stroke="#3a1212" stroke-width="1" shape-rendering="crispEdges"/>
<line x1="583.0" y1="720.8" x2="590.0" y2="726.2" stroke="#3a1212" stroke-width="1" shape-rendering="crispEdges"/>
<line x1="590.0" y1="726.2" x2="597.0" y2="726.2" stroke="#3a1212" stroke-width="1" shape-rendering="crispEdges"/>
<line x1="597.0" y1="726.2" x2="601.7" y2="727.0" stroke="#3a1212" stroke-width="1" shape-rendering="crispEdges"/>
<line x1="601.7" y1="727.0" x2="608.0" y2="730.8" stroke="#3a1212" stroke-width="1" shape-rendering="crispEdges"/>
<line x1="608.0" y1="730.8" x2="616.7" y2="724.3" stroke="#3a1212" stroke-width="1" shape-rendering="crispEdges"/>
<line x1="616.7" y1="724.3" x2="624.8" y2="717.4" stroke="#3a1212" stroke-width="1" shape-rendering="crispEdges"/>
<line x1="624.8" y1="717.4" x2="633.0" y2="727.8" stroke="#3a1212" stroke-width="1" shape-rendering="crispEdges"/>
<line x1="633.0" y1="727.8" x2="637.6" y2="732.4" stroke="#3a1212" stroke-width="1" shape-rendering="crispEdges"/>
<line x1="637.6" y1="732.4" x2="641.0" y2="726.2" stroke="#3a1212" stroke-width="1" shape-rendering="crispEdges"/>
<line x1="641.0" y1="726.2" x2="646.8" y2="723.2" stroke="#3a1212" stroke-width="1" shape-rendering="crispEdges"/>
<line x1="646.8" y1="723.2" x2="653.8" y2="727.0" stroke="#3a1212" stroke-width="1" shape-rendering="crispEdges"/>
<line x1="653.8" y1="727.0" x2="661.9" y2="724.3" stroke="#3a1212" stroke-width="1" shape-rendering="crispEdges"/>
<line x1="661.9" y1="724.3" x2="670.0" y2="722.5" stroke="#3a1212" stroke-width="1" shape-rendering="crispEdges"/>
<line x1="670.0" y1="722.5" x2="675.8" y2="724.3" stroke="#3a1212" stroke-width="1" shape-rendering="crispEdges"/>
<line x1="675.8" y1="724.3" x2="682.7" y2="727.3" stroke="#3a1212" stroke-width="1" shape-rendering="crispEdges"/>
<line x1="682.7" y1="727.3" x2="688.5" y2="725.5" stroke="#3a1212" stroke-width="1" shape-rendering="crispEdges"/>
<line x1="688.5" y1="725.5" x2="692.0" y2="722.5" stroke="#3a1212" stroke-width="1" shape-rendering="crispEdges"/>
<line x1="692.0" y1="722.5" x2="696.6" y2="726.2" stroke="#3a1212" stroke-width="1" shape-rendering="crispEdges"/>
<line x1="696.6" y1="726.2" x2="700.0" y2="717.4" stroke="#3a1212" stroke-width="1" shape-rendering="crispEdges"/>
<line x1="700.0" y1="717.4" x2="705.4" y2="723.2" stroke="#3a1212" stroke-width="1" shape-rendering="crispEdges"/>
<line x1="705.4" y1="723.2" x2="711.7" y2="723.2" stroke="#3a1212" stroke-width="1" shape-rendering="crispEdges"/>
<line x1="711.7" y1="723.2" x2="716.3" y2="719.2" stroke="#3a1212" stroke-width="1" shape-rendering="crispEdges"/>
<line x1="716.3" y1="719.2" x2="719.3" y2="711.0" stroke="#3a1212" stroke-width="1" shape-rendering="crispEdges"/>
<line x1="719.3" y1="711.0" x2="724.4" y2="715.5" stroke="#3a1212" stroke-width="1" shape-rendering="crispEdges"/>
<line x1="724.4" y1="715.5" x2="727.9" y2="716.2" stroke="#3a1212" stroke-width="1" shape-rendering="crispEdges"/>
<line x1="727.9" y1="716.2" x2="731.4" y2="714.0" stroke="#3a1212" stroke-width="1" shape-rendering="crispEdges"/>
<line x1="731.4" y1="714.0" x2="737.0" y2="716.9" stroke="#3a1212" stroke-width="1" shape-rendering="crispEdges"/>
<line x1="737.0" y1="716.9" x2="741.8" y2="719.2" stroke="#3a1212" stroke-width="1" shape-rendering="crispEdges"/>
<line x1="741.8" y1="719.2" x2="745.2" y2="715.0" stroke="#3a1212" stroke-width="1" shape-rendering="crispEdges"/>
<line x1="745.2" y1="715.0" x2="748.7" y2="715.0" stroke="#3a1212" stroke-width="1" shape-rendering="crispEdges"/>
<line x1="748.7" y1="715.0" x2="750.3" y2="717.8" stroke="#3a1212" stroke-width="1" shape-rendering="crispEdges"/>
<line x1="750.3" y1="717.8" x2="753.4" y2="712.3" stroke="#3a1212" stroke-width="1" shape-rendering="crispEdges"/>
<line x1="753.4" y1="712.3" x2="758.0" y2="715.0" stroke="#3a1212" stroke-width="1" shape-rendering="crispEdges"/>
<line x1="758.0" y1="715.0" x2="761.5" y2="715.0" stroke="#3a1212" stroke-width="1" shape-rendering="crispEdges"/>
<line x1="761.5" y1="715.0" x2="765.0" y2="718.5" stroke="#3a1212" stroke-width="1" shape-rendering="crispEdges"/>
<line x1="765.0" y1="718.5" x2="768.4" y2="717.4" stroke="#3a1212" stroke-width="1" shape-rendering="crispEdges"/>
<line x1="768.4" y1="717.4" x2="771.9" y2="718.5" stroke="#3a1212" stroke-width="1" shape-rendering="crispEdges"/>
<line x1="771.9" y1="718.5" x2="775.4" y2="722.0" stroke="#3a1212" stroke-width="1" shape-rendering="crispEdges"/>
<line x1="775.4" y1="722.0" x2="779.5" y2="723.2" stroke="#3a1212" stroke-width="1" shape-rendering="crispEdges"/>
<line x1="779.5" y1="723.2" x2="784.0" y2="730.0" stroke="#3a1212" stroke-width="1" shape-rendering="crispEdges"/>
<line x1="784.0" y1="730.0" x2="787.4" y2="720.8" stroke="#3a1212" stroke-width="1" shape-rendering="crispEdges"/>
<line x1="787.4" y1="720.8" x2="790.0" y2="729.0" stroke="#3a1212" stroke-width="1" shape-rendering="crispEdges"/>
<line x1="790.0" y1="729.0" x2="790.6" y2="685.0" stroke="#3a1212" stroke-width="1" shape-rendering="crispEdges"/>
<line x1="790.6" y1="685.0" x2="792.3" y2="701.0" stroke="#3a1212" stroke-width="1" shape-rendering="crispEdges"/>
<line x1="792.3" y1="701.0" x2="793.9" y2="719.7" stroke="#3a1212" stroke-width="1" shape-rendering="crispEdges"/>
<line x1="793.9" y1="719.7" x2="795.0" y2="726.6" stroke="#3a1212" stroke-width="1" shape-rendering="crispEdges"/>
<line x1="795.0" y1="726.6" x2="798.5" y2="731.3" stroke="#3a1212" stroke-width="1" shape-rendering="crispEdges"/>
<line x1="798.5" y1="731.3" x2="803.0" y2="738.7" stroke="#1c1c60" stroke-width="1" shape-rendering="crispEdges"/>
<line x1="803.0" y1="738.7" x2="810.0" y2="739.4" stroke="#1c1c60" stroke-width="1" shape-rendering="crispEdges"/>
<line x1="810.0" y1="739.4" x2="817.0" y2="740.0" stroke="#1c1c60" stroke-width="1" shape-rendering="crispEdges"/>
<line x1="817.0" y1="740.0" x2="826.0" y2="741.8" stroke="#1c1c60" stroke-width="1" shape-rendering="crispEdges"/>
<line x1="826.0" y1="741.8" x2="834.8" y2="744.0" stroke="#1c1c60" stroke-width="1" shape-rendering="crispEdges"/>
<line x1="834.8" y1="744.0" x2="849.7" y2="742.4" stroke="#1c1c60" stroke-width="1" shape-rendering="crispEdges"/>
<line x1="849.7" y1="742.4" x2="863.0" y2="744.0" stroke="#1c1c60" stroke-width="1" shape-rendering="crispEdges"/>
<line x1="863.0" y1="744.0" x2="879.3" y2="741.0" stroke="#1c1c60" stroke-width="1" shape-rendering="crispEdges"/>
<line x1="879.3" y1="741.0" x2="891.0" y2="744.0" stroke="#1c1c60" stroke-width="1" shape-rendering="crispEdges"/>
<line x1="891.0" y1="744.0" x2="901.6" y2="744.0" stroke="#1c1c60" stroke-width="1" shape-rendering="crispEdges"/>
<line x1="901.6" y1="744.0" x2="912.0" y2="734.4" stroke="#1c1c60" stroke-width="1" shape-rendering="crispEdges"/>
<line x1="912.0" y1="734.4" x2="922.4" y2="729.0" stroke="#1c1c60" stroke-width="1" shape-rendering="crispEdges"/>
<line x1="922.4" y1="729.0" x2="931.3" y2="722.5" stroke="#3a1212" stroke-width="1" shape-rendering="crispEdges"/>
<line x1="931.3" y1="722.5" x2="935.7" y2="721.0" stroke="#3a1212" stroke-width="1" shape-rendering="crispEdges"/>
<line x1="935.7" y1="721.0" x2="941.7" y2="731.4" stroke="#3a1212" stroke-width="1" shape-rendering="crispEdges"/>
<line x1="941.7" y1="731.4" x2="945.2" y2="738.8" stroke="#1c1c60" stroke-width="1" shape-rendering="crispEdges"/>
<line x1="945.2" y1="738.8" x2="950.0" y2="721.6" stroke="#3a1212" stroke-width="1" shape-rendering="crispEdges"/>
<line x1="950.0" y1="721.6" x2="953.5" y2="725.5" stroke="#3a1212" stroke-width="1" shape-rendering="crispEdges"/>
<line x1="953.5" y1="725.5" x2="957.0" y2="732.3" stroke="#3a1212" stroke-width="1" shape-rendering="crispEdges"/>
<line x1="957.0" y1="732.3" x2="962.4" y2="729.0" stroke="#1c1c60" stroke-width="1" shape-rendering="crispEdges"/>
<line x1="962.4" y1="729.0" x2="968.4" y2="721.6" stroke="#3a1212" stroke-width="1" shape-rendering="crispEdges"/>
<line x1="968.4" y1="721.6" x2="974.3" y2="731.4" stroke="#3a1212" stroke-width="1" shape-rendering="crispEdges"/>
<line x1="974.3" y1="731.4" x2="980.2" y2="738.2" stroke="#1c1c60" stroke-width="1" shape-rendering="crispEdges"/>
<line x1="980.2" y1="738.2" x2="986.8" y2="742.7" stroke="#1c1c60" stroke-width="1" shape-rendering="crispEdges"/>
<line x1="986.8" y1="742.7" x2="995.0" y2="738.8" stroke="#1c1c60" stroke-width="1" shape-rendering="crispEdges"/>
<line x1="995.0" y1="738.8" x2="1005.5" y2="735.3" stroke="#1c1c60" stroke-width="1" shape-rendering="crispEdges"/>
<line x1="1005.5" y1="735.3" x2="1017.3" y2="737.3" stroke="#1c1c60" stroke-width="1" shape-rendering="crispEdges"/>
<line x1="1017.3" y1="737.3" x2="1027.7" y2="734.4" stroke="#1c1c60" stroke-width="1" shape-rendering="crispEdges"/>
<line x1="1027.7" y1="734.4" x2="1036.6" y2="733.2" stroke="#1c1c60" stroke-width="1" shape-rendering="crispEdges"/>
<line x1="1036.6" y1="733.2" x2="1046.0" y2="733.2" stroke="#1c1c60" stroke-width="1" shape-rendering="crispEdges"/>
<line x1="1046.0" y1="733.2" x2="1054.4" y2="725.5" stroke="#3a1212" stroke-width="1" shape-rendering="crispEdges"/>
<line x1="1054.4" y1="725.5" x2="1063.3" y2="732.3" stroke="#3a1212" stroke-width="1" shape-rendering="crispEdges"/>
<line x1="1063.3" y1="732.3" x2="1072.2" y2="732.3" stroke="#1c1c60" stroke-width="1" shape-rendering="crispEdges"/>
<line x1="1072.2" y1="732.3" x2="1081.0" y2="734.4" stroke="#1c1c60" stroke-width="1" shape-rendering="crispEdges"/>
<line x1="1081.0" y1="734.4" x2="1088.5" y2="735.3" stroke="#1c1c60" stroke-width="1" shape-rendering="crispEdges"/>
<line x1="1088.5" y1="735.3" x2="1093.6" y2="729.0" stroke="#1c1c60" stroke-width="1" shape-rendering="crispEdges"/>
<line x1="1093.6" y1="729.0" x2="1098.9" y2="735.3" stroke="#1c1c60" stroke-width="1" shape-rendering="crispEdges"/>
<line x1="1098.9" y1="735.3" x2="1102.8" y2="719.0" stroke="#3a1212" stroke-width="1" shape-rendering="crispEdges"/>
<line x1="1102.8" y1="719.0" x2="1109.3" y2="733.8" stroke="#3a1212" stroke-width="1" shape-rendering="crispEdges"/>
<line x1="1109.3" y1="733.8" x2="1113.8" y2="731.4" stroke="#1c1c60" stroke-width="1" shape-rendering="crispEdges"/>
<line x1="1113.8" y1="731.4" x2="1116.0" y2="731.4" stroke="#1c1c60" stroke-width="1" shape-rendering="crispEdges"/>
<polyline fill="none" stroke="#800000" stroke-width="1.6" points="790.2,729 790.8,685 792.3,701 793.9,719.7"/>
<text x="16.3" y="687" font-size="10" fill="#151515">%</text>
<text x="40" y="687.0" font-size="11" fill="#151515" text-anchor="end">20</text>
<text x="1146" y="687.0" font-size="11" fill="#151515" text-anchor="end">20</text>
<text x="40" y="711.0" font-size="11" fill="#151515" text-anchor="end">10</text>
<text x="1146" y="711.0" font-size="11" fill="#151515" text-anchor="end">10</text>
<text x="40" y="732.0" font-size="11" fill="#151515" text-anchor="end">0</text>
<text x="1146" y="732.0" font-size="11" fill="#151515" text-anchor="end">0</text>
<text x="40" y="755.0" font-size="11" fill="#151515" text-anchor="end">-10</text>
<text x="1146" y="755.0" font-size="11" fill="#151515" text-anchor="end">-10</text>
<text x="40" y="777.0" font-size="11" fill="#151515" text-anchor="end">-20</text>
<text x="1146" y="777.0" font-size="11" fill="#151515" text-anchor="end">-20</text>
<rect x="10" y="784" width="1146" height="62" fill="#c0c0c0" shape-rendering="crispEdges"/>
<text x="323.5" y="798.8" font-size="12" fill="#151515" textLength="54" lengthAdjust="spacing">Gaststätte</text>
<text x="323.5" y="818.8" font-size="12" fill="#151515" textLength="30" lengthAdjust="spacing">Kiosk</text>
<text x="323.5" y="838.8" font-size="12" fill="#151515" textLength="36" lengthAdjust="spacing">Straße</text>
<text x="473.5" y="798.8" font-size="12" fill="#151515" textLength="98" lengthAdjust="spacing">Sehenswürdigkeit</text>
<text x="473.5" y="818.8" font-size="12" fill="#151515" textLength="80" lengthAdjust="spacing">Gefahrenstelle</text>
<text x="473.5" y="838.8" font-size="12" fill="#151515" textLength="50" lengthAdjust="spacing">Forstweg</text>
<text x="623.5" y="798.8" font-size="12" fill="#151515" textLength="77" lengthAdjust="spacing">steiler Anstieg</text>
<text x="623.5" y="818.8" font-size="12" fill="#151515" textLength="71" lengthAdjust="spacing">steile Abfahrt</text>
<text x="623.5" y="838.8" font-size="12" fill="#151515" textLength="45" lengthAdjust="spacing">Schotter</text>
<text x="773.5" y="798.8" font-size="12" fill="#151515" textLength="71" lengthAdjust="spacing">Kontrollstelle</text>
<text x="773.5" y="818.8" font-size="12" fill="#151515" textLength="20" lengthAdjust="spacing">Ziel</text>
<text x="773.5" y="838.8" font-size="12" fill="#151515" textLength="24" lengthAdjust="spacing">Trail</text>
<polygon points="303.7,795 310.6,787.8 317.5,795" fill="#180000"/>
<rect x="305" y="795" width="11.4" height="6.8" fill="#e80000"/>
<path d="M307.3,811.6 H314.3 V814 L313.5,815.6 V817 L313.9,821.4 H308 L308.4,817 V815.6 L307.3,814 Z" fill="#30e8e0" stroke="#000" stroke-width="1"/>
<path d="M314.3,813.4 Q317.4,813.8 317.2,816 Q317,818.4 314,818.4" fill="none" stroke="#000" stroke-width="1"/>
<rect x="303.5" y="833.5" width="11" height="5" fill="#c2c2c2" stroke="#000" stroke-width="1" shape-rendering="crispEdges"/>
<rect x="453.5" y="833.5" width="11" height="5" fill="#800000" stroke="#000" stroke-width="1" shape-rendering="crispEdges"/>
<rect x="603.5" y="833.5" width="11" height="5" fill="#909090" stroke="#000" stroke-width="1" shape-rendering="crispEdges"/>
<rect x="753.5" y="833.5" width="11" height="5" fill="#ffff30" stroke="#000" stroke-width="1" shape-rendering="crispEdges"/>
<circle cx="460.7" cy="794.8" r="6.6" fill="#e8e81c" stroke="#101000" stroke-width="1.4"/>
<rect x="458.2" y="791.8" width="1.7" height="1.8" fill="#000"/><rect x="461.5" y="791.8" width="1.7" height="1.8" fill="#000"/>
<path d="M456.9,795.8 Q460.7,801 464.5,795.8" fill="none" stroke="#000" stroke-width="1"/>
<polygon points="460.6,807.2 468.4,821.9 452.8,821.9" fill="#e01020"/>
<polygon points="460.6,811.4 465.1,819.9 456.1,819.9" fill="#fff"/>
<rect x="459.4" y="810.2" width="2.5" height="6.9" fill="#100000"/><rect x="459.4" y="818" width="2.5" height="1.8" fill="#100000"/>
<polygon points="610.6,786.8 618.5,802 602.7,802" fill="#cc1020"/>
<polygon points="610.6,790.2 615.8,800.2 605.4,800.2" fill="#fff"/>
<polygon points="605.6,800.2 611.85,792.6 615.8,800.2" fill="#100000"/>
<polygon points="610.6,806.8 618.5,822 602.7,822" fill="#cc1020"/>
<polygon points="610.6,810.2 615.8,820.2 605.4,820.2" fill="#fff"/>
<polygon points="615.6,820.2 609.35,812.6 605.4,820.2" fill="#100000"/>
<polygon points="768.1,797.5 763.6,802.0 757.4,802.0 752.9,797.5 752.9,791.3 757.4,786.8 763.6,786.8 768.1,791.3" fill="#e81818"/>
<text x="760.5" y="797.3" font-size="8" font-weight="bold" fill="#fff" text-anchor="middle" textLength="12.5" lengthAdjust="spacingAndGlyphs">STOP</text>
<path d="M756,808.6 L758,821.6" stroke="#000" stroke-width="1.8" fill="none"/>
<polygon points="754.6,808.8 766.8,807.4 767,814.8 756,816.6" fill="#fff" stroke="#000" stroke-width="0.8"/>
<rect x="754.8" y="808.6" width="3.2" height="2.6" fill="#000"/>
<rect x="762.4" y="808.0" width="3.2" height="2.6" fill="#000"/>
<rect x="758.6" y="810.8" width="3.2" height="2.6" fill="#000"/>
<rect x="765.0" y="810.3" width="3.2" height="2.6" fill="#000"/>
<rect x="755.4" y="813.4" width="3.2" height="2.6" fill="#000"/>
<rect x="762.6" y="813.0" width="3.2" height="2.6" fill="#000"/>
<text x="1116" y="857" font-size="12" fill="#151515" text-anchor="end" textLength="142.8" lengthAdjust="spacing">Profil created by CicloTour</text>
</svg></body></html>
